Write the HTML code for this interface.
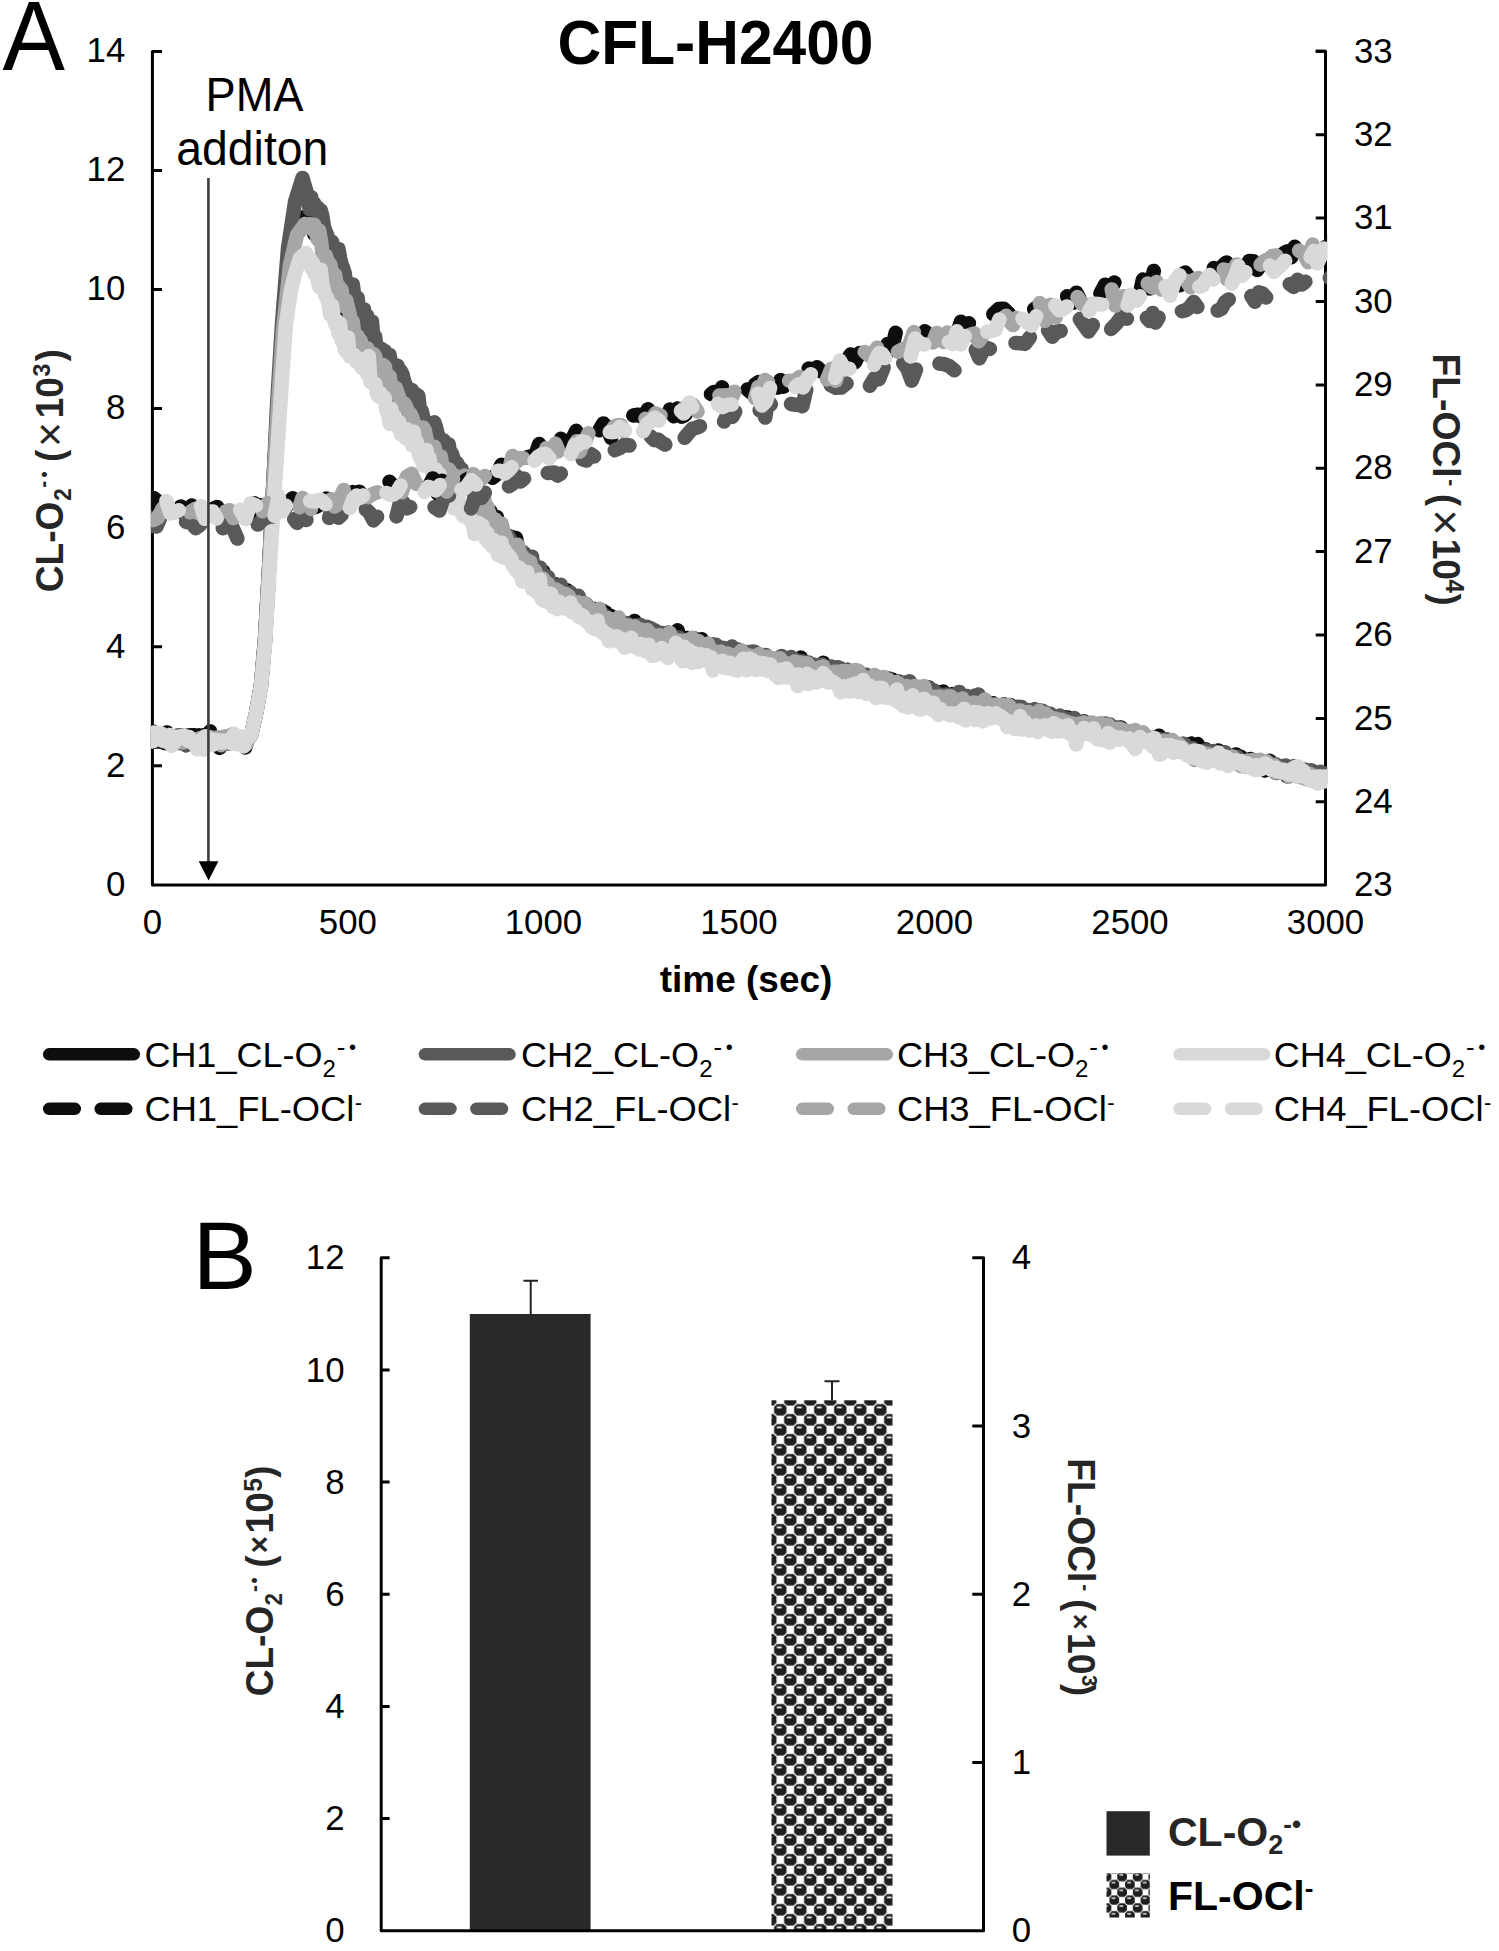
<!DOCTYPE html>
<html><head><meta charset="utf-8"><style>
html,body{margin:0;padding:0;background:#fff;}
svg{display:block;}
text{font-family:"Liberation Sans", sans-serif;}
</style></head><body>
<svg width="1499" height="1951" viewBox="0 0 1499 1951">
<rect width="1499" height="1951" fill="#fff"/>
<text x="0" y="0" font-size="97.5" transform="translate(2.6,69.8) scale(0.96,1)">A</text>
<text x="715.5" y="63.6" font-size="63.0" font-weight="bold" text-anchor="middle" fill="#000" textLength="316" lengthAdjust="spacingAndGlyphs">CFL-H2400</text>
<path d="M162,51.4 H152.4 V884.9 H1325.5 V51.3 H1315.7" fill="none" stroke="#000" stroke-width="3" stroke-linejoin="round"/>
<text x="125.3" y="895.7" font-size="34.8" font-weight="normal" text-anchor="end" fill="#000" >0</text>
<text x="125.3" y="776.6" font-size="34.8" font-weight="normal" text-anchor="end" fill="#000" >2</text>
<text x="125.3" y="657.6" font-size="34.8" font-weight="normal" text-anchor="end" fill="#000" >4</text>
<text x="125.3" y="538.5" font-size="34.8" font-weight="normal" text-anchor="end" fill="#000" >6</text>
<text x="125.3" y="419.4" font-size="34.8" font-weight="normal" text-anchor="end" fill="#000" >8</text>
<text x="125.3" y="300.3" font-size="34.8" font-weight="normal" text-anchor="end" fill="#000" >10</text>
<text x="125.3" y="181.3" font-size="34.8" font-weight="normal" text-anchor="end" fill="#000" >12</text>
<text x="125.3" y="62.2" font-size="34.8" font-weight="normal" text-anchor="end" fill="#000" >14</text>
<text x="1354.0" y="896.4" font-size="34.8" font-weight="normal" text-anchor="start" fill="#000" >23</text>
<text x="1354.0" y="813.0" font-size="34.8" font-weight="normal" text-anchor="start" fill="#000" >24</text>
<text x="1354.0" y="729.6" font-size="34.8" font-weight="normal" text-anchor="start" fill="#000" >25</text>
<text x="1354.0" y="646.2" font-size="34.8" font-weight="normal" text-anchor="start" fill="#000" >26</text>
<text x="1354.0" y="562.8" font-size="34.8" font-weight="normal" text-anchor="start" fill="#000" >27</text>
<text x="1354.0" y="479.4" font-size="34.8" font-weight="normal" text-anchor="start" fill="#000" >28</text>
<text x="1354.0" y="396.1" font-size="34.8" font-weight="normal" text-anchor="start" fill="#000" >29</text>
<text x="1354.0" y="312.7" font-size="34.8" font-weight="normal" text-anchor="start" fill="#000" >30</text>
<text x="1354.0" y="229.3" font-size="34.8" font-weight="normal" text-anchor="start" fill="#000" >31</text>
<text x="1354.0" y="145.9" font-size="34.8" font-weight="normal" text-anchor="start" fill="#000" >32</text>
<text x="1354.0" y="62.5" font-size="34.8" font-weight="normal" text-anchor="start" fill="#000" >33</text>
<path d="M152.4,765.8 H162 M152.4,646.8 H162 M152.4,527.7 H162 M152.4,408.6 H162 M152.4,289.5 H162 M152.4,170.5 H162 M152.4,51.4 H162 M1325.5,801.8 H1315.7 M1325.5,718.4 H1315.7 M1325.5,635.0 H1315.7 M1325.5,551.6 H1315.7 M1325.5,468.2 H1315.7 M1325.5,384.9 H1315.7 M1325.5,301.5 H1315.7 M1325.5,218.1 H1315.7 M1325.5,134.7 H1315.7 M1325.5,51.3 H1315.7" stroke="#000" stroke-width="3" fill="none"/>
<text x="152.4" y="934.3" font-size="34.8" font-weight="normal" text-anchor="middle" fill="#000" >0</text>
<text x="347.9" y="934.3" font-size="34.8" font-weight="normal" text-anchor="middle" fill="#000" >500</text>
<text x="543.4" y="934.3" font-size="34.8" font-weight="normal" text-anchor="middle" fill="#000" >1000</text>
<text x="738.9" y="934.3" font-size="34.8" font-weight="normal" text-anchor="middle" fill="#000" >1500</text>
<text x="934.5" y="934.3" font-size="34.8" font-weight="normal" text-anchor="middle" fill="#000" >2000</text>
<text x="1130.0" y="934.3" font-size="34.8" font-weight="normal" text-anchor="middle" fill="#000" >2500</text>
<text x="1325.5" y="934.3" font-size="34.8" font-weight="normal" text-anchor="middle" fill="#000" >3000</text>
<text x="746.0" y="991.5" font-size="37.0" font-weight="bold" text-anchor="middle" fill="#000" >time (sec)</text>
<clipPath id="pa"><rect x="150.9" y="0" width="1176.2" height="886.4"/></clipPath><g clip-path="url(#pa)"><path d="M152.4,731.4 L154.0,741.8 L155.6,740.9 L157.2,741.6 L158.8,741.6 L160.4,736.5 L162.0,736.4 L163.6,739.9 L165.2,743.3 L166.8,732.5 L168.4,737.4 L170.0,736.4 L171.6,741.2 L173.2,744.5 L174.8,739.0 L176.4,736.0 L178.0,741.4 L179.6,740.0 L181.2,735.6 L182.8,742.1 L184.4,738.0 L186.0,741.7 L187.6,735.5 L189.2,742.7 L190.8,735.2 L192.4,743.2 L194.0,735.2 L195.6,744.8 L197.2,738.4 L198.8,735.3 L200.4,738.4 L202.0,740.1 L203.6,735.3 L205.2,736.9 L206.8,738.9 L208.4,737.9 L210.0,731.4 L211.6,739.2 L213.2,742.2 L214.8,741.0 L216.4,742.9 L218.0,738.3 L219.6,747.9 L221.2,742.9 L222.8,741.5 L224.4,743.2 L226.0,743.2 L227.6,740.1 L229.2,739.2 L230.8,743.7 L232.4,742.3 L234.0,735.3 L235.6,738.2 L237.2,742.5 L238.8,742.0 L240.4,742.3 L242.0,744.1 L243.6,742.9 L245.2,747.5 L246.8,738.2 L248.4,737.7 L250.0,736.3 L251.0,735.5 L256.0,713.5 L261.0,685.0 L265.0,640.0 L269.0,570.0 L273.0,490.0 L277.0,419.4 L282.0,341.0 L288.0,276.5 L295.0,235.3 L302.5,217.6 L306.0,217.5 L308.0,220.3 L309.6,225.1 L311.2,228.5 L312.8,230.3 L314.4,234.3 L316.0,228.1 L317.6,238.6 L319.2,239.8 L320.8,232.5 L322.4,246.9 L324.0,268.3 L325.6,264.5 L327.2,260.5 L328.8,247.2 L330.4,265.7 L332.0,271.0 L333.6,279.3 L335.2,298.8 L336.8,290.3 L338.4,288.5 L340.0,282.2 L341.6,283.8 L343.2,295.0 L344.8,296.9 L346.4,324.1 L348.0,304.8 L349.6,304.8 L351.2,321.1 L352.8,318.4 L354.4,311.2 L356.0,330.7 L357.6,320.9 L359.2,317.4 L360.8,334.0 L362.4,339.1 L364.0,335.1 L365.6,343.7 L367.2,347.7 L368.8,339.9 L370.4,332.7 L372.0,334.5 L373.6,353.3 L375.2,364.6 L376.8,364.5 L378.4,368.7 L380.0,374.1 L381.6,368.8 L383.2,377.5 L384.8,365.1 L386.4,381.6 L388.0,381.8 L389.6,383.2 L391.2,382.4 L392.8,380.1 L394.4,390.2 L396.0,400.4 L397.6,393.7 L399.2,400.7 L400.8,394.0 L402.4,399.9 L404.0,394.9 L405.6,403.5 L407.2,403.2 L408.8,407.7 L410.4,405.9 L412.0,404.4 L413.6,411.9 L415.2,424.2 L416.8,431.5 L418.4,423.0 L420.0,432.1 L421.6,433.4 L423.2,432.2 L424.8,425.8 L426.4,439.9 L428.0,434.9 L429.6,448.2 L431.2,447.0 L432.8,448.7 L434.4,434.8 L436.0,455.3 L437.6,457.5 L439.2,449.0 L440.8,459.3 L442.4,458.4 L444.0,459.3 L445.6,457.2 L447.2,458.0 L448.8,461.3 L450.4,483.6 L452.0,472.6 L453.6,474.4 L455.2,471.9 L456.8,471.5 L458.4,473.0 L460.0,471.8 L461.6,480.7 L463.2,475.9 L464.8,481.3 L466.4,475.7 L468.0,487.7 L469.6,484.4 L471.2,489.4 L472.8,488.9 L474.4,488.2 L476.0,502.0 L477.6,494.4 L479.2,498.2 L480.8,495.5 L482.4,504.3 L484.0,505.3 L485.6,511.7 L487.2,516.2 L488.8,513.0 L490.4,511.3 L492.0,521.4 L493.6,525.7 L495.2,525.5 L496.8,517.0 L498.4,528.6 L500.0,531.2 L501.6,533.6 L503.2,537.7 L504.8,536.2 L506.4,540.0 L508.0,545.4 L509.6,540.1 L511.2,536.7 L512.8,543.2 L514.4,545.4 L516.0,538.1 L517.6,545.9 L519.2,553.5 L520.8,553.5 L522.4,556.8 L524.0,553.1 L525.6,566.1 L527.2,571.1 L528.8,562.1 L530.4,562.4 L532.0,561.8 L533.6,574.2 L535.2,572.6 L536.8,571.2 L538.4,581.0 L540.0,578.8 L541.6,580.2 L543.2,571.6 L544.8,579.0 L546.4,583.0 L548.0,577.8 L549.6,588.4 L551.2,592.6 L552.8,591.0 L554.4,584.9 L556.0,584.6 L557.6,592.7 L559.2,594.9 L560.8,596.4 L562.4,597.5 L564.0,594.2 L565.6,594.9 L567.2,590.3 L568.8,600.0 L570.4,605.7 L572.0,598.5 L573.6,600.2 L575.2,605.0 L576.8,605.1 L578.4,600.0 L580.0,603.3 L581.6,602.7 L583.2,614.3 L584.8,604.8 L586.4,610.8 L588.0,616.4 L589.6,617.3 L591.2,616.5 L592.8,617.7 L594.4,609.0 L596.0,612.9 L597.6,611.9 L599.2,614.2 L600.8,624.7 L602.4,610.7 L604.0,618.3 L605.6,612.6 L607.2,621.2 L608.8,622.6 L610.4,615.9 L612.0,625.2 L613.6,619.3 L615.2,623.6 L616.8,621.3 L618.4,620.1 L620.0,621.4 L621.6,622.8 L623.2,625.4 L624.8,624.4 L626.4,632.8 L628.0,625.0 L629.6,624.1 L631.2,623.2 L632.8,623.1 L634.4,620.9 L636.0,623.9 L637.6,630.9 L639.2,628.8 L640.8,629.7 L642.4,631.4 L644.0,634.7 L645.6,634.3 L647.2,634.3 L648.8,629.7 L650.4,630.7 L652.0,630.4 L653.6,633.9 L655.2,631.4 L656.8,634.0 L658.4,634.9 L660.0,635.1 L661.6,635.1 L663.2,634.8 L664.8,639.9 L666.4,634.8 L668.0,632.7 L669.6,637.3 L671.2,635.3 L672.8,637.4 L674.4,641.0 L676.0,634.9 L677.6,630.3 L679.2,640.9 L680.8,644.9 L682.4,637.3 L684.0,639.6 L685.6,645.2 L687.2,637.9 L688.8,640.7 L690.4,639.8 L692.0,643.2 L693.6,638.2 L695.2,647.7 L696.8,644.7 L698.4,646.7 L700.0,644.8 L701.6,639.2 L703.2,646.7 L704.8,643.6 L706.4,648.4 L708.0,645.0 L709.6,647.0 L711.2,648.2 L712.8,650.8 L714.4,651.9 L716.0,646.6 L717.6,650.3 L719.2,655.1 L720.8,652.6 L722.4,649.9 L724.0,651.8 L725.6,652.4 L727.2,656.1 L728.8,653.0 L730.4,654.8 L732.0,660.1 L733.6,649.2 L735.2,651.3 L736.8,650.2 L738.4,649.8 L740.0,658.0 L741.6,657.7 L743.2,662.8 L744.8,651.8 L746.4,655.0 L748.0,662.1 L749.6,660.3 L751.2,660.0 L752.8,660.1 L754.4,657.8 L756.0,658.7 L757.6,658.9 L759.2,660.7 L760.8,658.6 L762.4,659.6 L764.0,663.0 L765.6,655.4 L767.2,656.6 L768.8,660.2 L770.4,657.9 L772.0,659.9 L773.6,666.5 L775.2,661.6 L776.8,660.0 L778.4,665.1 L780.0,670.0 L781.6,659.7 L783.2,659.8 L784.8,661.8 L786.4,659.9 L788.0,668.9 L789.6,664.8 L791.2,662.4 L792.8,665.1 L794.4,661.3 L796.0,661.9 L797.6,664.3 L799.2,671.7 L800.8,657.6 L802.4,665.6 L804.0,668.3 L805.6,667.5 L807.2,672.3 L808.8,668.7 L810.4,668.5 L812.0,668.3 L813.6,666.3 L815.2,674.5 L816.8,665.3 L818.4,668.7 L820.0,667.3 L821.6,667.3 L823.2,662.8 L824.8,668.7 L826.4,670.9 L828.0,672.1 L829.6,674.0 L831.2,670.7 L832.8,670.1 L834.4,672.6 L836.0,674.4 L837.6,669.6 L839.2,668.0 L840.8,668.9 L842.4,676.2 L844.0,676.2 L845.6,670.3 L847.2,675.2 L848.8,678.3 L850.4,682.3 L852.0,676.6 L853.6,677.8 L855.2,683.1 L856.8,687.4 L858.4,684.8 L860.0,676.9 L861.6,682.3 L863.2,679.6 L864.8,680.6 L866.4,678.6 L868.0,678.7 L869.6,681.1 L871.2,687.4 L872.8,684.3 L874.4,683.2 L876.0,681.0 L877.6,679.4 L879.2,681.4 L880.8,685.3 L882.4,684.5 L884.0,687.6 L885.6,683.0 L887.2,682.8 L888.8,678.6 L890.4,685.5 L892.0,679.5 L893.6,689.3 L895.2,683.0 L896.8,685.1 L898.4,681.4 L900.0,684.7 L901.6,684.3 L903.2,692.1 L904.8,688.1 L906.4,684.5 L908.0,682.5 L909.6,690.1 L911.2,689.7 L912.8,687.0 L914.4,692.9 L916.0,690.5 L917.6,692.5 L919.2,690.0 L920.8,690.4 L922.4,691.0 L924.0,687.8 L925.6,694.7 L927.2,693.4 L928.8,687.6 L930.4,694.4 L932.0,698.0 L933.6,695.0 L935.2,698.8 L936.8,694.8 L938.4,695.9 L940.0,692.3 L941.6,694.8 L943.2,691.6 L944.8,694.6 L946.4,697.3 L948.0,698.3 L949.6,700.4 L951.2,697.2 L952.8,693.9 L954.4,700.0 L956.0,698.5 L957.6,704.8 L959.2,707.2 L960.8,704.4 L962.4,697.2 L964.0,699.8 L965.6,701.8 L967.2,700.5 L968.8,703.8 L970.4,704.4 L972.0,704.3 L973.6,703.0 L975.2,699.5 L976.8,700.1 L978.4,702.6 L980.0,707.2 L981.6,709.1 L983.2,708.3 L984.8,706.8 L986.4,707.6 L988.0,707.8 L989.6,709.9 L991.2,710.5 L992.8,703.2 L994.4,710.7 L996.0,708.9 L997.6,706.1 L999.2,709.0 L1000.8,708.6 L1002.4,708.9 L1004.0,704.3 L1005.6,709.8 L1007.2,710.6 L1008.8,709.4 L1010.4,705.1 L1012.0,711.0 L1013.6,711.6 L1015.2,710.5 L1016.8,712.4 L1018.4,710.8 L1020.0,710.4 L1021.6,714.2 L1023.2,712.1 L1024.8,714.0 L1026.4,725.1 L1028.0,716.8 L1029.6,715.1 L1031.2,710.9 L1032.8,716.2 L1034.4,719.3 L1036.0,715.0 L1037.6,716.7 L1039.2,710.5 L1040.8,718.4 L1042.4,714.6 L1044.0,720.3 L1045.6,723.0 L1047.2,718.9 L1048.8,723.1 L1050.4,721.4 L1052.0,720.7 L1053.6,720.4 L1055.2,718.6 L1056.8,725.9 L1058.4,724.6 L1060.0,718.1 L1061.6,723.9 L1063.2,719.0 L1064.8,717.3 L1066.4,725.4 L1068.0,717.5 L1069.6,725.2 L1071.2,723.6 L1072.8,726.0 L1074.4,725.2 L1076.0,727.5 L1077.6,725.5 L1079.2,727.0 L1080.8,727.1 L1082.4,728.8 L1084.0,725.4 L1085.6,729.8 L1087.2,731.3 L1088.8,728.2 L1090.4,729.8 L1092.0,728.2 L1093.6,729.5 L1095.2,730.5 L1096.8,729.1 L1098.4,727.9 L1100.0,730.5 L1101.6,729.9 L1103.2,730.4 L1104.8,731.8 L1106.4,723.8 L1108.0,735.2 L1109.6,730.4 L1111.2,728.7 L1112.8,730.1 L1114.4,732.4 L1116.0,733.7 L1117.6,730.4 L1119.2,732.7 L1120.8,727.4 L1122.4,733.2 L1124.0,731.9 L1125.6,731.7 L1127.2,735.8 L1128.8,739.2 L1130.4,736.8 L1132.0,731.4 L1133.6,739.2 L1135.2,733.2 L1136.8,736.2 L1138.4,734.9 L1140.0,738.4 L1141.6,738.7 L1143.2,738.8 L1144.8,738.9 L1146.4,739.6 L1148.0,738.2 L1149.6,742.4 L1151.2,738.6 L1152.8,739.8 L1154.4,739.2 L1156.0,737.3 L1157.6,739.0 L1159.2,735.7 L1160.8,741.6 L1162.4,742.6 L1164.0,742.3 L1165.6,749.5 L1167.2,741.8 L1168.8,746.5 L1170.4,746.7 L1172.0,743.8 L1173.6,745.7 L1175.2,749.2 L1176.8,746.8 L1178.4,747.5 L1180.0,751.3 L1181.6,748.8 L1183.2,743.8 L1184.8,746.1 L1186.4,751.0 L1188.0,747.9 L1189.6,745.9 L1191.2,743.6 L1192.8,751.6 L1194.4,755.5 L1196.0,746.2 L1197.6,744.1 L1199.2,752.8 L1200.8,750.3 L1202.4,750.6 L1204.0,751.0 L1205.6,749.2 L1207.2,753.3 L1208.8,755.4 L1210.4,754.4 L1212.0,751.4 L1213.6,755.7 L1215.2,751.2 L1216.8,753.6 L1218.4,750.4 L1220.0,755.8 L1221.6,755.2 L1223.2,757.0 L1224.8,754.1 L1226.4,757.1 L1228.0,755.2 L1229.6,760.3 L1231.2,760.4 L1232.8,761.1 L1234.4,756.8 L1236.0,754.5 L1237.6,758.0 L1239.2,758.1 L1240.8,756.7 L1242.4,761.5 L1244.0,763.8 L1245.6,763.0 L1247.2,765.7 L1248.8,763.7 L1250.4,758.9 L1252.0,760.4 L1253.6,761.8 L1255.2,764.8 L1256.8,766.7 L1258.4,764.4 L1260.0,767.7 L1261.6,762.2 L1263.2,764.0 L1264.8,770.5 L1266.4,766.9 L1268.0,769.7 L1269.6,760.8 L1271.2,762.0 L1272.8,764.2 L1274.4,770.0 L1276.0,772.9 L1277.6,767.6 L1279.2,766.2 L1280.8,766.4 L1282.4,767.7 L1284.0,771.9 L1285.6,770.0 L1287.2,776.4 L1288.8,773.6 L1290.4,769.9 L1292.0,773.6 L1293.6,772.9 L1295.2,775.2 L1296.8,776.2 L1298.4,772.0 L1300.0,776.5 L1301.6,776.8 L1303.2,775.4 L1304.8,776.3 L1306.4,778.5 L1308.0,775.8 L1309.6,774.1 L1311.2,780.1 L1312.8,777.4 L1314.4,775.7 L1316.0,779.2 L1317.6,773.4 L1319.2,777.3 L1320.8,773.1 L1322.4,776.6 L1324.0,773.0 L1325.5,776.5" fill="none" stroke="#0d0d0d" stroke-width="14.5" stroke-linejoin="round" stroke-linecap="round"/>
<path d="M152.4,738.3 L154.0,740.0 L155.6,740.1 L157.2,737.9 L158.8,738.3 L160.4,736.5 L162.0,738.8 L163.6,738.8 L165.2,741.0 L166.8,740.2 L168.4,739.1 L170.0,737.4 L171.6,738.8 L173.2,742.0 L174.8,743.2 L176.4,739.3 L178.0,735.3 L179.6,743.0 L181.2,738.9 L182.8,742.5 L184.4,742.8 L186.0,745.4 L187.6,741.5 L189.2,741.3 L190.8,741.4 L192.4,743.5 L194.0,739.6 L195.6,743.2 L197.2,744.0 L198.8,745.7 L200.4,742.3 L202.0,743.8 L203.6,743.5 L205.2,743.1 L206.8,740.5 L208.4,740.9 L210.0,741.9 L211.6,742.6 L213.2,744.1 L214.8,741.4 L216.4,742.5 L218.0,743.5 L219.6,743.3 L221.2,741.4 L222.8,741.2 L224.4,740.0 L226.0,740.6 L227.6,738.5 L229.2,736.2 L230.8,738.4 L232.4,734.4 L234.0,741.3 L235.6,741.8 L237.2,738.4 L238.8,740.0 L240.4,740.4 L242.0,739.1 L243.6,743.6 L245.2,740.0 L246.8,739.2 L248.4,737.7 L250.0,736.3 L251.0,735.5 L256.0,713.5 L261.0,685.0 L265.0,640.0 L269.0,570.0 L273.0,490.0 L277.0,406.0 L282.0,324.0 L288.0,248.0 L295.0,202.0 L302.5,178.0 L306.0,190.0 L308.0,196.8 L309.6,209.3 L311.2,197.2 L312.8,207.7 L314.4,203.5 L316.0,209.2 L317.6,207.3 L319.2,219.5 L320.8,210.4 L322.4,216.4 L324.0,227.0 L325.6,231.5 L327.2,235.0 L328.8,250.0 L330.4,242.4 L332.0,241.7 L333.6,254.9 L335.2,252.1 L336.8,259.4 L338.4,249.0 L340.0,257.6 L341.6,264.4 L343.2,268.4 L344.8,273.7 L346.4,285.4 L348.0,284.2 L349.6,289.3 L351.2,290.5 L352.8,284.6 L354.4,296.4 L356.0,307.9 L357.6,297.9 L359.2,310.8 L360.8,317.4 L362.4,318.9 L364.0,309.4 L365.6,325.8 L367.2,316.0 L368.8,323.8 L370.4,334.3 L372.0,321.6 L373.6,342.6 L375.2,336.7 L376.8,353.6 L378.4,352.8 L380.0,349.8 L381.6,348.8 L383.2,352.8 L384.8,351.0 L386.4,353.4 L388.0,361.0 L389.6,355.1 L391.2,365.1 L392.8,367.1 L394.4,368.0 L396.0,367.1 L397.6,365.7 L399.2,376.5 L400.8,370.8 L402.4,374.1 L404.0,380.6 L405.6,384.9 L407.2,392.4 L408.8,393.6 L410.4,389.6 L412.0,390.1 L413.6,395.4 L415.2,393.6 L416.8,397.8 L418.4,395.7 L420.0,413.0 L421.6,410.4 L423.2,417.2 L424.8,425.3 L426.4,424.0 L428.0,425.8 L429.6,428.3 L431.2,424.1 L432.8,424.1 L434.4,422.3 L436.0,427.3 L437.6,433.6 L439.2,438.2 L440.8,441.5 L442.4,442.1 L444.0,440.6 L445.6,446.9 L447.2,450.6 L448.8,444.6 L450.4,457.5 L452.0,453.6 L453.6,459.3 L455.2,462.6 L456.8,462.7 L458.4,465.5 L460.0,470.5 L461.6,469.1 L463.2,476.9 L464.8,478.1 L466.4,481.0 L468.0,476.9 L469.6,481.5 L471.2,485.0 L472.8,489.5 L474.4,497.0 L476.0,494.0 L477.6,498.7 L479.2,505.7 L480.8,502.6 L482.4,509.1 L484.0,508.4 L485.6,506.4 L487.2,513.3 L488.8,515.9 L490.4,515.4 L492.0,526.2 L493.6,520.4 L495.2,519.5 L496.8,526.3 L498.4,530.1 L500.0,532.8 L501.6,541.7 L503.2,535.7 L504.8,540.8 L506.4,535.7 L508.0,535.7 L509.6,538.5 L511.2,543.1 L512.8,545.1 L514.4,546.9 L516.0,546.7 L517.6,547.8 L519.2,550.9 L520.8,556.9 L522.4,551.6 L524.0,558.8 L525.6,564.8 L527.2,557.9 L528.8,565.5 L530.4,566.5 L532.0,556.7 L533.6,569.5 L535.2,569.7 L536.8,567.2 L538.4,575.9 L540.0,567.7 L541.6,578.2 L543.2,577.6 L544.8,575.3 L546.4,580.1 L548.0,577.0 L549.6,583.8 L551.2,586.0 L552.8,588.8 L554.4,589.4 L556.0,585.8 L557.6,591.1 L559.2,588.9 L560.8,584.8 L562.4,596.4 L564.0,598.3 L565.6,595.8 L567.2,600.7 L568.8,596.3 L570.4,592.5 L572.0,596.4 L573.6,597.3 L575.2,600.1 L576.8,598.9 L578.4,595.7 L580.0,599.4 L581.6,602.8 L583.2,607.2 L584.8,604.1 L586.4,604.3 L588.0,607.0 L589.6,612.2 L591.2,614.0 L592.8,610.0 L594.4,613.6 L596.0,615.1 L597.6,615.3 L599.2,611.2 L600.8,616.3 L602.4,615.0 L604.0,614.6 L605.6,621.5 L607.2,618.6 L608.8,621.0 L610.4,623.3 L612.0,625.2 L613.6,622.3 L615.2,621.1 L616.8,623.6 L618.4,622.3 L620.0,624.3 L621.6,624.8 L623.2,622.4 L624.8,624.9 L626.4,623.0 L628.0,627.3 L629.6,630.2 L631.2,629.7 L632.8,628.6 L634.4,625.4 L636.0,627.9 L637.6,625.6 L639.2,629.9 L640.8,625.1 L642.4,627.2 L644.0,632.8 L645.6,630.0 L647.2,626.8 L648.8,629.6 L650.4,628.2 L652.0,628.9 L653.6,631.1 L655.2,630.3 L656.8,633.9 L658.4,635.7 L660.0,632.8 L661.6,632.9 L663.2,633.1 L664.8,634.4 L666.4,635.8 L668.0,633.9 L669.6,634.1 L671.2,634.8 L672.8,639.3 L674.4,639.9 L676.0,640.7 L677.6,639.2 L679.2,637.5 L680.8,643.2 L682.4,646.2 L684.0,640.7 L685.6,639.9 L687.2,643.1 L688.8,643.7 L690.4,643.2 L692.0,647.6 L693.6,642.8 L695.2,642.0 L696.8,644.8 L698.4,646.0 L700.0,646.3 L701.6,649.0 L703.2,647.5 L704.8,644.0 L706.4,647.5 L708.0,645.9 L709.6,650.4 L711.2,648.7 L712.8,644.3 L714.4,648.5 L716.0,644.7 L717.6,649.6 L719.2,648.9 L720.8,649.7 L722.4,647.7 L724.0,648.1 L725.6,648.6 L727.2,650.2 L728.8,652.6 L730.4,648.6 L732.0,646.5 L733.6,650.7 L735.2,653.2 L736.8,653.5 L738.4,649.7 L740.0,655.7 L741.6,653.3 L743.2,654.8 L744.8,654.0 L746.4,656.4 L748.0,651.9 L749.6,658.5 L751.2,656.9 L752.8,651.6 L754.4,651.8 L756.0,658.5 L757.6,653.6 L759.2,656.5 L760.8,659.2 L762.4,657.9 L764.0,659.3 L765.6,655.1 L767.2,658.8 L768.8,661.3 L770.4,664.5 L772.0,660.1 L773.6,659.1 L775.2,659.0 L776.8,660.9 L778.4,660.1 L780.0,657.5 L781.6,655.9 L783.2,659.9 L784.8,659.0 L786.4,664.1 L788.0,658.7 L789.6,663.0 L791.2,657.1 L792.8,663.9 L794.4,659.0 L796.0,662.5 L797.6,662.6 L799.2,663.1 L800.8,662.6 L802.4,661.2 L804.0,664.8 L805.6,662.2 L807.2,664.2 L808.8,662.5 L810.4,664.6 L812.0,664.5 L813.6,664.7 L815.2,664.9 L816.8,670.6 L818.4,667.6 L820.0,668.7 L821.6,664.4 L823.2,670.6 L824.8,667.0 L826.4,670.3 L828.0,666.7 L829.6,675.2 L831.2,666.4 L832.8,669.5 L834.4,667.2 L836.0,668.2 L837.6,667.3 L839.2,675.5 L840.8,677.1 L842.4,671.7 L844.0,674.4 L845.6,671.6 L847.2,669.6 L848.8,676.8 L850.4,675.3 L852.0,671.5 L853.6,673.6 L855.2,673.8 L856.8,673.0 L858.4,673.9 L860.0,672.6 L861.6,674.5 L863.2,674.4 L864.8,676.0 L866.4,674.8 L868.0,679.3 L869.6,676.5 L871.2,677.8 L872.8,679.1 L874.4,679.3 L876.0,676.2 L877.6,681.4 L879.2,677.6 L880.8,679.2 L882.4,682.1 L884.0,681.5 L885.6,680.8 L887.2,682.7 L888.8,681.5 L890.4,683.2 L892.0,683.0 L893.6,682.6 L895.2,683.9 L896.8,685.3 L898.4,683.6 L900.0,685.1 L901.6,688.3 L903.2,686.4 L904.8,682.5 L906.4,688.0 L908.0,691.8 L909.6,681.3 L911.2,688.0 L912.8,687.3 L914.4,686.1 L916.0,690.6 L917.6,688.8 L919.2,689.2 L920.8,687.6 L922.4,690.0 L924.0,688.8 L925.6,694.9 L927.2,691.5 L928.8,688.1 L930.4,691.2 L932.0,695.4 L933.6,690.2 L935.2,692.6 L936.8,693.6 L938.4,694.9 L940.0,695.8 L941.6,694.9 L943.2,696.4 L944.8,698.3 L946.4,694.6 L948.0,697.2 L949.6,697.9 L951.2,696.2 L952.8,694.7 L954.4,701.4 L956.0,698.0 L957.6,697.5 L959.2,691.9 L960.8,701.6 L962.4,700.8 L964.0,697.7 L965.6,697.2 L967.2,696.0 L968.8,703.7 L970.4,702.0 L972.0,704.6 L973.6,704.1 L975.2,695.5 L976.8,701.1 L978.4,694.5 L980.0,700.4 L981.6,699.9 L983.2,699.2 L984.8,702.9 L986.4,702.6 L988.0,702.2 L989.6,703.3 L991.2,706.4 L992.8,705.6 L994.4,706.7 L996.0,706.8 L997.6,705.3 L999.2,706.2 L1000.8,709.2 L1002.4,708.3 L1004.0,707.3 L1005.6,710.9 L1007.2,710.5 L1008.8,709.4 L1010.4,710.2 L1012.0,708.3 L1013.6,712.0 L1015.2,709.1 L1016.8,708.9 L1018.4,706.7 L1020.0,707.7 L1021.6,706.9 L1023.2,710.6 L1024.8,711.5 L1026.4,712.2 L1028.0,710.1 L1029.6,711.1 L1031.2,712.9 L1032.8,712.1 L1034.4,709.1 L1036.0,717.9 L1037.6,714.3 L1039.2,715.4 L1040.8,713.8 L1042.4,710.7 L1044.0,713.3 L1045.6,712.5 L1047.2,716.9 L1048.8,715.0 L1050.4,713.7 L1052.0,716.5 L1053.6,721.8 L1055.2,717.4 L1056.8,718.4 L1058.4,721.6 L1060.0,715.4 L1061.6,718.9 L1063.2,721.6 L1064.8,720.6 L1066.4,718.5 L1068.0,720.7 L1069.6,721.7 L1071.2,723.0 L1072.8,724.5 L1074.4,718.1 L1076.0,721.6 L1077.6,720.7 L1079.2,723.2 L1080.8,722.2 L1082.4,725.4 L1084.0,721.1 L1085.6,724.8 L1087.2,725.3 L1088.8,727.2 L1090.4,728.7 L1092.0,725.7 L1093.6,724.8 L1095.2,728.1 L1096.8,726.5 L1098.4,727.4 L1100.0,728.0 L1101.6,723.5 L1103.2,724.5 L1104.8,725.1 L1106.4,724.1 L1108.0,731.8 L1109.6,724.4 L1111.2,728.2 L1112.8,728.1 L1114.4,727.1 L1116.0,731.0 L1117.6,728.3 L1119.2,727.5 L1120.8,728.5 L1122.4,735.3 L1124.0,732.1 L1125.6,734.5 L1127.2,734.7 L1128.8,736.3 L1130.4,733.5 L1132.0,736.5 L1133.6,736.8 L1135.2,731.8 L1136.8,737.7 L1138.4,738.8 L1140.0,741.0 L1141.6,739.5 L1143.2,737.7 L1144.8,736.3 L1146.4,739.3 L1148.0,738.9 L1149.6,738.9 L1151.2,738.0 L1152.8,742.3 L1154.4,742.4 L1156.0,742.9 L1157.6,738.7 L1159.2,742.1 L1160.8,743.0 L1162.4,739.4 L1164.0,741.8 L1165.6,743.4 L1167.2,739.3 L1168.8,742.3 L1170.4,743.0 L1172.0,740.6 L1173.6,745.5 L1175.2,744.8 L1176.8,747.7 L1178.4,745.0 L1180.0,745.1 L1181.6,746.4 L1183.2,749.0 L1184.8,744.1 L1186.4,748.0 L1188.0,750.8 L1189.6,751.4 L1191.2,751.9 L1192.8,748.3 L1194.4,750.4 L1196.0,751.2 L1197.6,751.6 L1199.2,752.4 L1200.8,756.7 L1202.4,757.2 L1204.0,750.9 L1205.6,750.4 L1207.2,753.0 L1208.8,756.3 L1210.4,751.3 L1212.0,751.6 L1213.6,751.1 L1215.2,756.4 L1216.8,752.9 L1218.4,754.6 L1220.0,757.3 L1221.6,756.1 L1223.2,754.7 L1224.8,752.2 L1226.4,758.3 L1228.0,756.5 L1229.6,755.6 L1231.2,758.3 L1232.8,756.5 L1234.4,758.7 L1236.0,758.2 L1237.6,757.0 L1239.2,760.3 L1240.8,761.6 L1242.4,763.5 L1244.0,763.8 L1245.6,766.5 L1247.2,764.9 L1248.8,763.6 L1250.4,765.1 L1252.0,764.8 L1253.6,763.3 L1255.2,764.8 L1256.8,764.4 L1258.4,760.3 L1260.0,763.5 L1261.6,764.0 L1263.2,767.7 L1264.8,765.9 L1266.4,764.4 L1268.0,764.3 L1269.6,762.7 L1271.2,767.4 L1272.8,764.0 L1274.4,764.0 L1276.0,764.5 L1277.6,770.5 L1279.2,770.5 L1280.8,768.9 L1282.4,767.4 L1284.0,766.0 L1285.6,765.5 L1287.2,768.3 L1288.8,767.4 L1290.4,773.3 L1292.0,769.3 L1293.6,766.3 L1295.2,772.6 L1296.8,771.3 L1298.4,769.2 L1300.0,771.6 L1301.6,772.4 L1303.2,769.6 L1304.8,769.5 L1306.4,772.3 L1308.0,772.6 L1309.6,772.8 L1311.2,770.2 L1312.8,771.0 L1314.4,773.4 L1316.0,773.0 L1317.6,773.8 L1319.2,778.7 L1320.8,771.7 L1322.4,775.1 L1324.0,773.5 L1325.5,777.0" fill="none" stroke="#595959" stroke-width="14.5" stroke-linejoin="round" stroke-linecap="round"/>
<path d="M152.4,738.3 L154.0,740.8 L155.6,738.5 L157.2,738.7 L158.8,739.1 L160.4,739.9 L162.0,735.9 L163.6,735.1 L165.2,739.1 L166.8,740.7 L168.4,738.0 L170.0,738.2 L171.6,740.8 L173.2,740.6 L174.8,737.5 L176.4,739.3 L178.0,739.0 L179.6,739.6 L181.2,740.0 L182.8,742.4 L184.4,741.3 L186.0,740.9 L187.6,740.6 L189.2,739.1 L190.8,739.4 L192.4,740.8 L194.0,741.1 L195.6,744.7 L197.2,745.5 L198.8,738.7 L200.4,738.1 L202.0,741.7 L203.6,738.1 L205.2,739.9 L206.8,736.7 L208.4,741.2 L210.0,737.1 L211.6,741.5 L213.2,738.5 L214.8,740.8 L216.4,741.5 L218.0,737.2 L219.6,739.6 L221.2,745.2 L222.8,737.1 L224.4,740.6 L226.0,736.2 L227.6,742.0 L229.2,740.8 L230.8,739.3 L232.4,738.6 L234.0,743.5 L235.6,742.7 L237.2,739.1 L238.8,743.4 L240.4,740.0 L242.0,740.3 L243.6,743.4 L245.2,742.9 L246.8,744.0 L248.4,737.7 L250.0,736.3 L251.0,735.5 L256.0,713.5 L261.0,685.0 L265.0,640.0 L269.0,570.0 L273.0,490.0 L278.0,406.0 L283.0,330.0 L290.0,265.0 L297.0,235.0 L305.0,224.0 L308.0,227.2 L309.6,224.2 L311.2,228.8 L312.8,228.0 L314.4,224.8 L316.0,232.4 L317.6,239.0 L319.2,230.7 L320.8,239.8 L322.4,252.5 L324.0,259.0 L325.6,255.1 L327.2,259.9 L328.8,263.1 L330.4,264.7 L332.0,274.2 L333.6,288.1 L335.2,275.0 L336.8,286.5 L338.4,285.6 L340.0,301.0 L341.6,290.0 L343.2,305.9 L344.8,304.7 L346.4,300.6 L348.0,307.8 L349.6,313.6 L351.2,325.5 L352.8,321.6 L354.4,335.2 L356.0,337.4 L357.6,335.9 L359.2,339.4 L360.8,340.9 L362.4,352.4 L364.0,353.8 L365.6,355.1 L367.2,348.3 L368.8,354.1 L370.4,362.1 L372.0,360.1 L373.6,353.9 L375.2,356.4 L376.8,364.4 L378.4,367.2 L380.0,368.0 L381.6,372.8 L383.2,365.1 L384.8,366.5 L386.4,376.4 L388.0,380.6 L389.6,376.2 L391.2,386.3 L392.8,390.0 L394.4,388.2 L396.0,388.2 L397.6,393.1 L399.2,397.3 L400.8,404.8 L402.4,402.8 L404.0,403.2 L405.6,405.5 L407.2,409.6 L408.8,416.1 L410.4,413.8 L412.0,416.9 L413.6,422.4 L415.2,424.6 L416.8,435.5 L418.4,429.1 L420.0,433.1 L421.6,442.8 L423.2,427.5 L424.8,430.5 L426.4,438.8 L428.0,445.4 L429.6,450.8 L431.2,451.3 L432.8,448.3 L434.4,446.8 L436.0,456.4 L437.6,456.6 L439.2,456.2 L440.8,456.4 L442.4,466.3 L444.0,466.9 L445.6,468.2 L447.2,470.1 L448.8,469.4 L450.4,472.2 L452.0,473.8 L453.6,475.5 L455.2,476.2 L456.8,480.3 L458.4,476.7 L460.0,481.6 L461.6,482.3 L463.2,484.9 L464.8,475.6 L466.4,485.9 L468.0,486.3 L469.6,484.2 L471.2,488.3 L472.8,491.1 L474.4,490.8 L476.0,511.3 L477.6,497.5 L479.2,500.4 L480.8,496.0 L482.4,500.9 L484.0,497.4 L485.6,507.9 L487.2,506.5 L488.8,512.4 L490.4,516.0 L492.0,522.5 L493.6,521.0 L495.2,519.6 L496.8,522.6 L498.4,527.9 L500.0,536.9 L501.6,523.6 L503.2,530.2 L504.8,534.4 L506.4,538.3 L508.0,543.0 L509.6,547.1 L511.2,545.8 L512.8,548.8 L514.4,545.4 L516.0,546.8 L517.6,544.7 L519.2,550.3 L520.8,557.9 L522.4,556.2 L524.0,564.6 L525.6,560.2 L527.2,560.4 L528.8,567.9 L530.4,562.0 L532.0,573.3 L533.6,573.1 L535.2,570.6 L536.8,577.2 L538.4,577.6 L540.0,582.3 L541.6,579.2 L543.2,578.6 L544.8,583.1 L546.4,583.8 L548.0,583.8 L549.6,591.1 L551.2,591.5 L552.8,589.0 L554.4,590.4 L556.0,589.3 L557.6,592.3 L559.2,591.2 L560.8,594.6 L562.4,596.8 L564.0,599.8 L565.6,593.9 L567.2,595.9 L568.8,596.1 L570.4,600.8 L572.0,604.9 L573.6,601.6 L575.2,604.7 L576.8,603.2 L578.4,602.3 L580.0,605.1 L581.6,610.0 L583.2,607.2 L584.8,603.1 L586.4,606.0 L588.0,608.9 L589.6,616.3 L591.2,608.8 L592.8,618.7 L594.4,615.1 L596.0,616.6 L597.6,616.7 L599.2,608.7 L600.8,616.4 L602.4,616.9 L604.0,619.1 L605.6,621.9 L607.2,619.7 L608.8,618.3 L610.4,621.2 L612.0,621.3 L613.6,622.7 L615.2,621.9 L616.8,624.0 L618.4,617.4 L620.0,625.5 L621.6,627.3 L623.2,625.6 L624.8,625.9 L626.4,627.8 L628.0,625.5 L629.6,627.2 L631.2,631.7 L632.8,633.4 L634.4,626.4 L636.0,630.6 L637.6,632.5 L639.2,634.4 L640.8,629.3 L642.4,630.9 L644.0,633.2 L645.6,634.6 L647.2,629.9 L648.8,632.6 L650.4,633.9 L652.0,637.4 L653.6,636.2 L655.2,635.9 L656.8,639.2 L658.4,636.2 L660.0,635.2 L661.6,639.7 L663.2,640.0 L664.8,640.5 L666.4,641.3 L668.0,638.0 L669.6,632.7 L671.2,637.7 L672.8,639.1 L674.4,639.6 L676.0,641.7 L677.6,640.4 L679.2,643.5 L680.8,640.8 L682.4,641.8 L684.0,643.7 L685.6,645.2 L687.2,640.3 L688.8,646.0 L690.4,643.6 L692.0,637.7 L693.6,646.4 L695.2,644.0 L696.8,645.9 L698.4,640.9 L700.0,646.0 L701.6,643.6 L703.2,651.7 L704.8,650.6 L706.4,646.9 L708.0,643.6 L709.6,649.9 L711.2,652.1 L712.8,651.2 L714.4,652.8 L716.0,651.7 L717.6,654.0 L719.2,653.9 L720.8,651.6 L722.4,656.0 L724.0,655.7 L725.6,654.3 L727.2,653.5 L728.8,654.1 L730.4,661.6 L732.0,662.2 L733.6,658.8 L735.2,654.9 L736.8,657.3 L738.4,653.6 L740.0,652.6 L741.6,650.5 L743.2,653.1 L744.8,653.6 L746.4,657.8 L748.0,657.5 L749.6,655.7 L751.2,656.0 L752.8,656.8 L754.4,657.4 L756.0,657.6 L757.6,660.4 L759.2,654.1 L760.8,658.0 L762.4,658.4 L764.0,660.1 L765.6,659.3 L767.2,656.7 L768.8,660.2 L770.4,661.1 L772.0,658.2 L773.6,663.3 L775.2,667.4 L776.8,661.2 L778.4,665.0 L780.0,658.2 L781.6,664.3 L783.2,661.9 L784.8,664.6 L786.4,663.0 L788.0,664.5 L789.6,666.2 L791.2,666.0 L792.8,665.8 L794.4,661.6 L796.0,662.0 L797.6,663.2 L799.2,662.6 L800.8,662.6 L802.4,664.8 L804.0,666.3 L805.6,665.2 L807.2,663.2 L808.8,669.6 L810.4,666.7 L812.0,672.6 L813.6,668.8 L815.2,668.7 L816.8,671.5 L818.4,670.0 L820.0,667.2 L821.6,670.6 L823.2,666.3 L824.8,672.1 L826.4,671.7 L828.0,672.3 L829.6,672.2 L831.2,676.7 L832.8,672.9 L834.4,671.7 L836.0,679.1 L837.6,671.7 L839.2,672.9 L840.8,671.6 L842.4,671.1 L844.0,672.3 L845.6,671.0 L847.2,671.8 L848.8,671.7 L850.4,671.4 L852.0,671.0 L853.6,673.9 L855.2,670.0 L856.8,676.3 L858.4,670.7 L860.0,676.2 L861.6,678.1 L863.2,676.3 L864.8,679.0 L866.4,683.0 L868.0,679.1 L869.6,678.3 L871.2,680.1 L872.8,677.2 L874.4,675.0 L876.0,677.9 L877.6,680.7 L879.2,680.1 L880.8,682.0 L882.4,682.5 L884.0,677.0 L885.6,678.7 L887.2,681.4 L888.8,679.6 L890.4,684.5 L892.0,682.3 L893.6,682.4 L895.2,688.6 L896.8,682.1 L898.4,683.1 L900.0,689.1 L901.6,687.1 L903.2,686.3 L904.8,688.3 L906.4,686.1 L908.0,686.4 L909.6,687.6 L911.2,691.6 L912.8,688.4 L914.4,685.9 L916.0,686.7 L917.6,691.1 L919.2,686.7 L920.8,687.0 L922.4,688.6 L924.0,686.0 L925.6,691.7 L927.2,697.5 L928.8,698.9 L930.4,696.6 L932.0,700.6 L933.6,697.4 L935.2,696.8 L936.8,699.3 L938.4,697.8 L940.0,696.7 L941.6,697.8 L943.2,697.9 L944.8,698.8 L946.4,700.8 L948.0,696.3 L949.6,697.0 L951.2,696.6 L952.8,703.8 L954.4,701.6 L956.0,701.9 L957.6,699.7 L959.2,704.6 L960.8,701.1 L962.4,698.5 L964.0,700.7 L965.6,706.2 L967.2,704.2 L968.8,703.6 L970.4,703.3 L972.0,706.5 L973.6,702.5 L975.2,702.9 L976.8,704.3 L978.4,704.7 L980.0,702.9 L981.6,704.4 L983.2,704.5 L984.8,699.4 L986.4,704.6 L988.0,703.7 L989.6,705.1 L991.2,705.5 L992.8,706.7 L994.4,708.3 L996.0,704.6 L997.6,706.7 L999.2,707.7 L1000.8,708.8 L1002.4,704.5 L1004.0,707.8 L1005.6,708.1 L1007.2,706.3 L1008.8,704.9 L1010.4,710.9 L1012.0,712.6 L1013.6,711.3 L1015.2,714.5 L1016.8,713.1 L1018.4,710.6 L1020.0,710.6 L1021.6,716.2 L1023.2,713.9 L1024.8,712.4 L1026.4,716.2 L1028.0,711.9 L1029.6,712.8 L1031.2,716.9 L1032.8,716.3 L1034.4,714.1 L1036.0,717.7 L1037.6,717.4 L1039.2,710.7 L1040.8,715.9 L1042.4,718.1 L1044.0,716.0 L1045.6,713.6 L1047.2,719.2 L1048.8,716.2 L1050.4,719.8 L1052.0,718.9 L1053.6,721.9 L1055.2,718.4 L1056.8,723.8 L1058.4,720.4 L1060.0,720.8 L1061.6,719.8 L1063.2,720.7 L1064.8,721.7 L1066.4,721.7 L1068.0,724.0 L1069.6,723.7 L1071.2,723.1 L1072.8,724.6 L1074.4,725.2 L1076.0,727.1 L1077.6,728.4 L1079.2,723.4 L1080.8,726.7 L1082.4,727.6 L1084.0,722.6 L1085.6,725.8 L1087.2,729.3 L1088.8,725.6 L1090.4,724.8 L1092.0,722.4 L1093.6,727.5 L1095.2,726.5 L1096.8,726.7 L1098.4,727.9 L1100.0,723.3 L1101.6,727.2 L1103.2,731.2 L1104.8,732.3 L1106.4,728.0 L1108.0,724.6 L1109.6,730.5 L1111.2,730.4 L1112.8,731.0 L1114.4,728.7 L1116.0,732.8 L1117.6,729.5 L1119.2,728.7 L1120.8,729.2 L1122.4,731.4 L1124.0,733.0 L1125.6,730.6 L1127.2,734.9 L1128.8,737.7 L1130.4,732.1 L1132.0,737.2 L1133.6,734.7 L1135.2,730.1 L1136.8,738.6 L1138.4,734.9 L1140.0,737.2 L1141.6,736.6 L1143.2,732.2 L1144.8,736.4 L1146.4,740.5 L1148.0,741.4 L1149.6,737.5 L1151.2,742.5 L1152.8,742.5 L1154.4,744.9 L1156.0,746.4 L1157.6,746.3 L1159.2,746.2 L1160.8,745.5 L1162.4,743.2 L1164.0,740.7 L1165.6,743.0 L1167.2,746.1 L1168.8,746.1 L1170.4,743.2 L1172.0,739.9 L1173.6,744.0 L1175.2,743.2 L1176.8,748.1 L1178.4,743.6 L1180.0,744.9 L1181.6,748.1 L1183.2,748.0 L1184.8,749.3 L1186.4,752.7 L1188.0,752.7 L1189.6,755.6 L1191.2,751.0 L1192.8,753.2 L1194.4,759.9 L1196.0,754.9 L1197.6,751.6 L1199.2,753.4 L1200.8,752.9 L1202.4,752.7 L1204.0,756.7 L1205.6,759.5 L1207.2,753.8 L1208.8,754.1 L1210.4,758.9 L1212.0,759.3 L1213.6,757.2 L1215.2,759.7 L1216.8,756.7 L1218.4,760.4 L1220.0,758.3 L1221.6,759.7 L1223.2,760.9 L1224.8,756.5 L1226.4,758.5 L1228.0,759.8 L1229.6,762.6 L1231.2,759.4 L1232.8,756.6 L1234.4,759.7 L1236.0,762.7 L1237.6,762.7 L1239.2,764.0 L1240.8,766.2 L1242.4,765.4 L1244.0,765.0 L1245.6,763.8 L1247.2,760.6 L1248.8,761.3 L1250.4,760.8 L1252.0,759.9 L1253.6,762.3 L1255.2,761.8 L1256.8,761.0 L1258.4,761.1 L1260.0,759.7 L1261.6,768.9 L1263.2,763.6 L1264.8,764.1 L1266.4,761.2 L1268.0,767.6 L1269.6,767.7 L1271.2,769.4 L1272.8,766.3 L1274.4,765.2 L1276.0,772.6 L1277.6,767.9 L1279.2,769.3 L1280.8,769.5 L1282.4,769.9 L1284.0,773.5 L1285.6,771.9 L1287.2,774.1 L1288.8,776.8 L1290.4,775.1 L1292.0,773.6 L1293.6,771.0 L1295.2,775.6 L1296.8,773.4 L1298.4,770.8 L1300.0,775.4 L1301.6,777.7 L1303.2,776.2 L1304.8,775.4 L1306.4,779.4 L1308.0,777.6 L1309.6,773.8 L1311.2,776.4 L1312.8,778.1 L1314.4,776.4 L1316.0,775.9 L1317.6,776.2 L1319.2,781.4 L1320.8,779.6 L1322.4,776.7 L1324.0,781.5 L1325.5,779.9" fill="none" stroke="#a6a6a6" stroke-width="14.5" stroke-linejoin="round" stroke-linecap="round"/>
<path d="M152.4,741.4 L154.0,732.6 L155.6,739.4 L157.2,736.5 L158.8,732.7 L160.4,734.3 L162.0,733.8 L163.6,741.0 L165.2,741.4 L166.8,738.7 L168.4,737.5 L170.0,734.9 L171.6,745.9 L173.2,744.3 L174.8,740.7 L176.4,736.8 L178.0,739.0 L179.6,738.3 L181.2,736.1 L182.8,736.2 L184.4,735.9 L186.0,736.5 L187.6,740.7 L189.2,736.9 L190.8,742.0 L192.4,741.4 L194.0,744.2 L195.6,745.6 L197.2,749.3 L198.8,744.5 L200.4,740.6 L202.0,740.9 L203.6,749.8 L205.2,736.2 L206.8,739.9 L208.4,743.5 L210.0,738.8 L211.6,740.1 L213.2,744.7 L214.8,742.2 L216.4,740.0 L218.0,741.4 L219.6,740.7 L221.2,742.6 L222.8,742.6 L224.4,740.7 L226.0,741.6 L227.6,742.1 L229.2,740.7 L230.8,739.3 L232.4,744.0 L234.0,733.8 L235.6,740.2 L237.2,744.2 L238.8,741.5 L240.4,736.7 L242.0,736.4 L243.6,746.4 L245.2,741.5 L246.8,737.2 L248.4,737.7 L250.0,736.3 L251.0,735.5 L256.0,713.5 L261.0,686.0 L265.0,645.0 L269.0,580.0 L274.0,500.0 L278.0,440.0 L282.0,380.0 L286.0,324.0 L291.0,290.0 L295.0,274.0 L300.0,258.0 L306.0,253.0 L308.0,258.5 L309.6,257.8 L311.2,267.9 L312.8,262.8 L314.4,273.3 L316.0,274.1 L317.6,279.9 L319.2,287.0 L320.8,269.7 L322.4,284.7 L324.0,291.3 L325.6,296.2 L327.2,298.0 L328.8,306.8 L330.4,315.1 L332.0,305.4 L333.6,317.3 L335.2,324.3 L336.8,320.8 L338.4,333.9 L340.0,323.6 L341.6,341.0 L343.2,337.8 L344.8,350.1 L346.4,351.8 L348.0,337.4 L349.6,356.3 L351.2,356.8 L352.8,355.9 L354.4,355.0 L356.0,361.5 L357.6,358.3 L359.2,362.0 L360.8,366.2 L362.4,368.4 L364.0,366.7 L365.6,362.2 L367.2,373.9 L368.8,356.0 L370.4,382.1 L372.0,381.7 L373.6,384.6 L375.2,383.5 L376.8,393.1 L378.4,396.3 L380.0,392.5 L381.6,397.4 L383.2,396.4 L384.8,397.8 L386.4,411.1 L388.0,410.9 L389.6,423.9 L391.2,408.9 L392.8,414.9 L394.4,424.8 L396.0,421.7 L397.6,427.2 L399.2,422.0 L400.8,434.3 L402.4,428.7 L404.0,433.9 L405.6,438.3 L407.2,429.3 L408.8,434.6 L410.4,433.2 L412.0,445.2 L413.6,431.7 L415.2,441.2 L416.8,442.0 L418.4,452.5 L420.0,458.1 L421.6,450.0 L423.2,465.5 L424.8,460.2 L426.4,449.9 L428.0,460.2 L429.6,458.2 L431.2,470.3 L432.8,471.8 L434.4,475.0 L436.0,469.7 L437.6,476.8 L439.2,473.8 L440.8,483.2 L442.4,492.6 L444.0,487.1 L445.6,499.3 L447.2,491.2 L448.8,492.0 L450.4,499.9 L452.0,489.4 L453.6,508.2 L455.2,502.6 L456.8,497.5 L458.4,507.6 L460.0,501.4 L461.6,513.1 L463.2,516.3 L464.8,516.5 L466.4,506.0 L468.0,512.5 L469.6,520.3 L471.2,519.3 L472.8,520.7 L474.4,534.1 L476.0,529.1 L477.6,526.0 L479.2,523.0 L480.8,527.1 L482.4,525.4 L484.0,530.4 L485.6,538.9 L487.2,533.1 L488.8,543.0 L490.4,540.4 L492.0,546.5 L493.6,539.8 L495.2,543.0 L496.8,550.7 L498.4,555.3 L500.0,554.8 L501.6,542.6 L503.2,557.5 L504.8,550.1 L506.4,558.2 L508.0,554.5 L509.6,556.5 L511.2,558.7 L512.8,565.8 L514.4,565.9 L516.0,570.7 L517.6,568.5 L519.2,567.6 L520.8,575.8 L522.4,581.5 L524.0,572.0 L525.6,577.2 L527.2,572.0 L528.8,580.4 L530.4,578.7 L532.0,589.2 L533.6,585.9 L535.2,587.3 L536.8,592.3 L538.4,590.8 L540.0,579.5 L541.6,598.8 L543.2,600.5 L544.8,595.0 L546.4,601.7 L548.0,600.6 L549.6,593.5 L551.2,594.0 L552.8,606.7 L554.4,604.5 L556.0,607.9 L557.6,609.3 L559.2,601.7 L560.8,606.9 L562.4,607.7 L564.0,608.2 L565.6,608.5 L567.2,605.3 L568.8,609.1 L570.4,602.6 L572.0,612.1 L573.6,610.5 L575.2,609.4 L576.8,615.1 L578.4,615.8 L580.0,617.6 L581.6,615.1 L583.2,616.1 L584.8,619.2 L586.4,621.6 L588.0,622.5 L589.6,621.8 L591.2,627.1 L592.8,626.0 L594.4,628.7 L596.0,625.6 L597.6,620.4 L599.2,630.3 L600.8,631.3 L602.4,630.4 L604.0,634.2 L605.6,633.8 L607.2,633.9 L608.8,641.2 L610.4,639.5 L612.0,636.5 L613.6,640.3 L615.2,638.8 L616.8,636.2 L618.4,641.5 L620.0,638.9 L621.6,638.7 L623.2,639.9 L624.8,647.7 L626.4,646.2 L628.0,646.4 L629.6,639.3 L631.2,637.7 L632.8,642.7 L634.4,644.6 L636.0,647.6 L637.6,646.4 L639.2,649.5 L640.8,644.0 L642.4,650.1 L644.0,647.3 L645.6,651.4 L647.2,651.4 L648.8,644.8 L650.4,651.3 L652.0,655.8 L653.6,655.8 L655.2,654.8 L656.8,650.2 L658.4,650.5 L660.0,654.0 L661.6,647.9 L663.2,653.6 L664.8,651.7 L666.4,656.4 L668.0,658.0 L669.6,653.0 L671.2,650.3 L672.8,650.7 L674.4,652.6 L676.0,642.8 L677.6,653.8 L679.2,652.3 L680.8,656.8 L682.4,661.3 L684.0,646.7 L685.6,649.2 L687.2,654.2 L688.8,650.1 L690.4,655.8 L692.0,662.8 L693.6,652.8 L695.2,654.7 L696.8,657.1 L698.4,661.9 L700.0,654.2 L701.6,660.4 L703.2,659.9 L704.8,660.1 L706.4,655.2 L708.0,661.3 L709.6,662.7 L711.2,657.4 L712.8,670.5 L714.4,663.7 L716.0,661.8 L717.6,665.9 L719.2,663.9 L720.8,664.7 L722.4,660.8 L724.0,667.8 L725.6,665.4 L727.2,664.1 L728.8,668.5 L730.4,662.8 L732.0,666.6 L733.6,666.6 L735.2,670.1 L736.8,670.5 L738.4,667.5 L740.0,667.8 L741.6,664.5 L743.2,658.7 L744.8,669.2 L746.4,670.3 L748.0,662.0 L749.6,658.4 L751.2,661.9 L752.8,660.3 L754.4,666.9 L756.0,670.1 L757.6,665.0 L759.2,662.7 L760.8,669.4 L762.4,666.9 L764.0,663.2 L765.6,666.6 L767.2,670.9 L768.8,670.2 L770.4,664.5 L772.0,668.3 L773.6,670.8 L775.2,675.3 L776.8,673.5 L778.4,677.9 L780.0,669.7 L781.6,673.3 L783.2,669.6 L784.8,677.4 L786.4,668.4 L788.0,671.7 L789.6,677.7 L791.2,674.1 L792.8,677.5 L794.4,674.6 L796.0,677.3 L797.6,686.0 L799.2,674.6 L800.8,677.1 L802.4,678.0 L804.0,678.7 L805.6,683.4 L807.2,673.8 L808.8,684.0 L810.4,682.3 L812.0,678.4 L813.6,680.0 L815.2,677.0 L816.8,682.4 L818.4,680.8 L820.0,678.4 L821.6,680.7 L823.2,673.0 L824.8,679.3 L826.4,676.4 L828.0,682.4 L829.6,681.4 L831.2,680.9 L832.8,681.8 L834.4,682.7 L836.0,684.1 L837.6,685.4 L839.2,688.2 L840.8,692.3 L842.4,689.6 L844.0,686.3 L845.6,687.1 L847.2,688.0 L848.8,691.6 L850.4,685.2 L852.0,691.0 L853.6,684.2 L855.2,683.7 L856.8,686.3 L858.4,692.0 L860.0,690.1 L861.6,685.4 L863.2,679.9 L864.8,691.4 L866.4,694.0 L868.0,688.5 L869.6,685.5 L871.2,690.3 L872.8,691.5 L874.4,692.8 L876.0,698.1 L877.6,692.6 L879.2,687.7 L880.8,696.4 L882.4,688.1 L884.0,697.5 L885.6,694.7 L887.2,697.2 L888.8,697.9 L890.4,697.1 L892.0,694.5 L893.6,699.5 L895.2,698.5 L896.8,689.4 L898.4,702.2 L900.0,696.2 L901.6,704.0 L903.2,706.0 L904.8,698.2 L906.4,701.4 L908.0,707.6 L909.6,704.4 L911.2,698.9 L912.8,695.3 L914.4,706.6 L916.0,703.3 L917.6,708.6 L919.2,702.2 L920.8,709.6 L922.4,706.5 L924.0,698.9 L925.6,707.5 L927.2,702.9 L928.8,702.2 L930.4,706.3 L932.0,710.1 L933.6,702.8 L935.2,711.1 L936.8,709.5 L938.4,714.9 L940.0,708.8 L941.6,713.2 L943.2,712.9 L944.8,712.4 L946.4,713.1 L948.0,714.4 L949.6,715.3 L951.2,713.5 L952.8,714.7 L954.4,715.0 L956.0,713.9 L957.6,713.0 L959.2,717.6 L960.8,713.4 L962.4,716.0 L964.0,708.9 L965.6,720.5 L967.2,716.4 L968.8,714.5 L970.4,713.7 L972.0,713.1 L973.6,711.9 L975.2,720.0 L976.8,715.9 L978.4,712.4 L980.0,712.7 L981.6,715.8 L983.2,721.4 L984.8,718.3 L986.4,714.1 L988.0,713.1 L989.6,717.8 L991.2,718.4 L992.8,717.4 L994.4,716.0 L996.0,713.2 L997.6,714.9 L999.2,718.3 L1000.8,716.1 L1002.4,719.8 L1004.0,718.4 L1005.6,720.1 L1007.2,727.0 L1008.8,724.9 L1010.4,724.0 L1012.0,721.7 L1013.6,722.1 L1015.2,729.0 L1016.8,725.8 L1018.4,726.7 L1020.0,716.1 L1021.6,729.6 L1023.2,729.1 L1024.8,721.3 L1026.4,724.5 L1028.0,728.1 L1029.6,730.7 L1031.2,728.0 L1032.8,727.9 L1034.4,726.5 L1036.0,725.4 L1037.6,732.1 L1039.2,730.1 L1040.8,728.1 L1042.4,726.5 L1044.0,725.5 L1045.6,727.3 L1047.2,725.7 L1048.8,730.7 L1050.4,728.4 L1052.0,731.9 L1053.6,723.2 L1055.2,729.2 L1056.8,728.3 L1058.4,731.6 L1060.0,726.0 L1061.6,728.2 L1063.2,727.6 L1064.8,729.8 L1066.4,732.2 L1068.0,725.2 L1069.6,733.9 L1071.2,734.8 L1072.8,731.4 L1074.4,732.7 L1076.0,744.6 L1077.6,739.2 L1079.2,736.3 L1080.8,735.5 L1082.4,731.2 L1084.0,728.0 L1085.6,732.8 L1087.2,732.6 L1088.8,733.3 L1090.4,734.7 L1092.0,733.0 L1093.6,728.4 L1095.2,735.4 L1096.8,739.3 L1098.4,735.9 L1100.0,739.7 L1101.6,738.4 L1103.2,740.5 L1104.8,737.3 L1106.4,737.7 L1108.0,733.1 L1109.6,742.7 L1111.2,736.0 L1112.8,735.9 L1114.4,737.6 L1116.0,739.4 L1117.6,738.0 L1119.2,739.8 L1120.8,737.6 L1122.4,738.2 L1124.0,739.0 L1125.6,739.0 L1127.2,740.5 L1128.8,738.3 L1130.4,743.0 L1132.0,744.8 L1133.6,743.6 L1135.2,748.9 L1136.8,740.9 L1138.4,739.9 L1140.0,736.9 L1141.6,741.6 L1143.2,741.8 L1144.8,741.3 L1146.4,740.9 L1148.0,742.7 L1149.6,740.0 L1151.2,740.4 L1152.8,746.8 L1154.4,738.1 L1156.0,748.4 L1157.6,748.4 L1159.2,754.7 L1160.8,754.4 L1162.4,745.3 L1164.0,751.5 L1165.6,745.1 L1167.2,750.4 L1168.8,746.6 L1170.4,744.9 L1172.0,749.7 L1173.6,752.8 L1175.2,751.0 L1176.8,746.9 L1178.4,747.4 L1180.0,751.3 L1181.6,747.8 L1183.2,752.7 L1184.8,752.7 L1186.4,755.0 L1188.0,753.9 L1189.6,752.7 L1191.2,757.5 L1192.8,752.3 L1194.4,750.6 L1196.0,756.0 L1197.6,758.8 L1199.2,751.3 L1200.8,756.1 L1202.4,761.3 L1204.0,757.7 L1205.6,762.3 L1207.2,762.6 L1208.8,760.7 L1210.4,756.3 L1212.0,756.3 L1213.6,756.7 L1215.2,760.8 L1216.8,755.8 L1218.4,752.5 L1220.0,763.5 L1221.6,755.5 L1223.2,760.5 L1224.8,756.4 L1226.4,757.0 L1228.0,766.0 L1229.6,765.2 L1231.2,760.3 L1232.8,761.2 L1234.4,762.5 L1236.0,760.2 L1237.6,760.6 L1239.2,763.5 L1240.8,761.0 L1242.4,763.7 L1244.0,766.1 L1245.6,765.7 L1247.2,763.3 L1248.8,767.4 L1250.4,768.3 L1252.0,767.2 L1253.6,768.3 L1255.2,770.0 L1256.8,765.0 L1258.4,767.2 L1260.0,769.5 L1261.6,768.2 L1263.2,766.0 L1264.8,763.3 L1266.4,767.4 L1268.0,765.1 L1269.6,767.1 L1271.2,769.7 L1272.8,768.6 L1274.4,769.6 L1276.0,767.8 L1277.6,771.5 L1279.2,771.3 L1280.8,769.7 L1282.4,772.3 L1284.0,769.7 L1285.6,770.6 L1287.2,773.4 L1288.8,774.5 L1290.4,773.0 L1292.0,768.9 L1293.6,771.9 L1295.2,766.9 L1296.8,776.5 L1298.4,766.4 L1300.0,770.2 L1301.6,772.9 L1303.2,770.8 L1304.8,777.0 L1306.4,777.5 L1308.0,776.7 L1309.6,780.3 L1311.2,779.6 L1312.8,777.0 L1314.4,779.3 L1316.0,777.0 L1317.6,783.6 L1319.2,778.3 L1320.8,776.6 L1322.4,779.7 L1324.0,781.2 L1325.5,776.5" fill="none" stroke="#d9d9d9" stroke-width="14.5" stroke-linejoin="round" stroke-linecap="round"/>
<path d="M146.5,506.9 L150.1,508.8 L153.7,498.1 L157.3,501.0 L160.9,506.4 M180.8,506.4 L183.6,513.5 L186.3,515.1 L189.1,515.4 L191.8,505.5 M213.3,508.7 L217.3,507.0 L221.3,514.8 L225.3,518.8 L229.3,517.9 M250.2,517.3 L254.2,503.3 L258.1,510.5 L262.0,505.3 M281.5,509.9 L285.2,508.1 L289.0,502.3 L292.7,498.2 M316.0,507.0 L321.2,503.7 L326.5,498.4 L331.7,509.2 M353.0,492.1 L356.2,495.9 L359.4,491.8 L362.6,495.6 L365.8,495.9 M389.5,481.7 L394.8,487.2 L400.1,486.1 L405.4,482.4 M428.3,487.5 L432.9,478.4 L437.5,493.5 L442.1,480.8 M462.5,484.4 L466.4,479.7 L470.2,477.9 L474.1,480.2 M492.4,477.8 L496.9,474.3 L501.4,464.8 L506.0,468.7 M527.0,457.2 L531.0,456.3 L535.1,456.0 L539.2,443.9 M561.1,438.8 L566.1,445.9 L571.2,441.2 L576.2,430.8 M599.4,430.2 L603.3,423.4 L607.2,427.1 L611.1,437.9 M633.3,415.5 L638.2,414.8 L643.1,417.5 L648.0,409.2 M669.9,409.6 L673.7,416.2 L677.6,408.4 L681.5,416.7 L685.4,414.7 M711.0,394.1 L713.8,391.9 L716.6,395.4 L719.3,396.1 L722.1,387.3 M747.4,389.5 L751.3,392.7 L755.2,384.4 L759.0,382.0 M777.6,387.6 L780.5,380.0 L783.4,386.7 L786.3,381.4 L789.2,382.8 M808.7,368.4 L813.0,370.3 L817.3,367.2 L821.6,371.6 M846.5,360.7 L850.8,354.4 L855.1,362.2 L859.5,353.0 M883.4,356.0 L887.5,344.0 L891.6,350.1 L895.7,332.7 M914.5,343.1 L918.0,337.5 L921.5,335.7 L925.0,331.3 L928.5,334.5 M953.0,338.2 L957.0,333.9 L960.9,321.7 L964.9,333.3 L968.9,323.2 M993.3,314.0 L998.6,309.1 L1003.9,308.8 L1009.2,314.1 M1034.2,309.1 L1038.0,306.7 L1041.8,313.0 L1045.6,307.7 M1067.2,296.3 L1070.3,300.4 L1073.3,302.8 L1076.4,292.7 L1079.4,298.6 M1100.4,293.4 L1105.1,284.7 L1109.7,290.9 L1114.4,282.5 M1139.3,296.0 L1142.9,279.6 L1146.5,288.1 L1150.1,288.4 L1153.8,270.9 M1179.7,285.2 L1182.4,274.7 L1185.2,272.4 L1188.0,276.4 L1190.7,278.3 M1213.7,268.1 L1216.9,271.4 L1220.1,272.4 L1223.3,265.2 L1226.6,262.4 M1249.2,261.0 L1253.2,261.2 L1257.2,269.9 L1261.2,264.0 M1280.8,255.8 L1284.2,253.0 L1287.7,251.2 L1291.2,257.3 L1294.7,246.7 M1318.1,258.6 L1321.7,254.7 L1325.3,247.2 L1328.9,250.4 L1332.4,239.4" fill="none" stroke="#0d0d0d" stroke-width="14.5" stroke-linejoin="round" stroke-linecap="round"/>
<path d="M117.9,516.9 L121.8,518.0 L125.7,512.8 L129.6,526.5 M148.2,516.7 L152.4,525.4 L156.5,526.5 L160.6,517.2 M186.0,521.9 L190.8,522.3 L195.7,528.2 L200.5,524.7 M222.8,528.2 L227.6,523.1 L232.5,527.5 L237.4,538.6 M257.9,524.6 L262.9,519.5 L267.8,516.9 L272.8,516.5 M294.2,519.1 L297.2,522.9 L300.3,517.1 L303.4,513.1 L306.4,519.9 M329.1,517.9 L332.2,507.0 L335.3,515.1 L338.5,517.8 L341.6,514.8 M365.8,509.3 L369.6,512.7 L373.4,520.4 L377.1,516.7 M396.5,516.4 L399.9,502.8 L403.4,502.5 L406.8,508.4 L410.2,506.9 M434.5,507.2 L439.4,510.6 L444.3,495.7 L449.1,495.4 M471.1,508.4 L474.5,498.8 L477.9,490.4 L481.4,498.0 L484.8,492.7 M509.0,486.3 L512.8,483.8 L516.6,476.0 L520.4,481.5 L524.1,478.6 M547.7,473.0 L551.0,472.7 L554.3,472.5 L557.5,475.5 L560.8,473.5 M582.7,459.3 L586.5,460.5 L590.3,453.9 L594.1,456.4 M614.8,450.2 L619.7,448.1 L624.6,444.6 L629.5,445.5 M650.6,436.3 L654.2,440.2 L657.9,439.5 L661.6,442.5 L665.3,444.6 M684.6,437.8 L688.4,433.2 L692.3,428.8 L696.2,427.8 L700.0,426.2 M724.1,421.6 L726.9,416.0 L729.7,415.5 L732.4,416.8 L735.2,411.6 M759.7,410.4 L762.5,410.1 L765.2,417.6 L768.0,400.3 L770.8,404.4 M791.0,404.0 L794.8,404.7 L798.6,404.7 L802.4,406.2 L806.2,389.9 M830.7,385.0 L836.0,387.8 L841.3,387.6 L846.6,383.4 M869.9,385.7 L874.5,378.2 L879.0,379.2 L883.6,367.5 M903.2,363.1 L907.4,368.8 L911.7,380.7 L916.0,369.6 M939.5,363.6 L944.5,364.3 L949.5,366.3 L954.5,370.3 M975.8,350.0 L979.3,358.3 L982.8,351.0 L986.4,347.8 L989.9,348.9 M1015.5,342.9 L1020.3,343.2 L1025.1,343.9 L1029.9,337.2 M1048.1,330.3 L1052.3,336.7 L1056.5,331.7 L1060.7,331.0 M1079.8,319.1 L1084.1,325.3 L1088.5,331.5 L1092.8,325.1 M1111.1,329.0 L1116.4,323.6 L1121.6,316.7 L1126.9,318.7 M1146.8,317.8 L1149.8,321.1 L1152.7,312.9 L1155.7,322.5 L1158.6,317.6 M1181.9,311.2 L1185.8,310.3 L1189.7,307.3 L1193.6,301.9 L1197.4,307.0 M1217.7,310.5 L1221.4,308.9 L1225.1,302.1 L1228.8,299.4 M1251.3,296.0 L1255.0,301.7 L1258.7,292.3 L1262.5,293.5 L1266.2,297.4 M1289.7,284.1 L1293.7,286.9 L1297.6,279.8 L1301.5,284.6 L1305.4,281.7 M1329.8,278.0 L1334.2,274.2 L1338.5,280.0 L1342.9,275.5" fill="none" stroke="#595959" stroke-width="14.5" stroke-linejoin="round" stroke-linecap="round"/>
<path d="M119.1,510.6 L124.4,506.9 L129.6,513.3 L134.8,509.6 M153.0,520.1 L157.7,518.0 L162.4,508.9 L167.1,510.1 M190.1,512.3 L194.5,509.3 L198.9,513.6 L203.2,513.3 M225.8,511.4 L229.6,510.2 L233.4,518.1 L237.2,515.9 L241.1,511.4 M262.6,511.2 L267.4,503.3 L272.1,505.8 L276.9,502.9 M299.5,507.2 L302.4,498.0 L305.2,501.7 L308.1,503.1 L310.9,509.0 M331.2,499.3 L334.4,506.5 L337.5,504.6 L340.6,496.6 L343.8,489.9 M363.7,495.7 L368.2,497.1 L372.8,494.0 L377.4,492.2 M401.9,492.2 L406.7,476.9 L411.5,473.8 L416.3,484.0 M440.3,486.4 L443.5,485.6 L446.7,491.6 L449.8,485.2 L453.0,479.2 M473.4,474.1 L477.2,478.6 L481.0,479.2 L484.8,475.9 M508.9,470.5 L512.5,455.9 L516.1,462.2 L519.7,458.2 L523.2,458.3 M546.3,448.3 L549.4,452.7 L552.4,454.0 L555.5,443.6 L558.5,451.2 M576.7,441.2 L579.7,451.8 L582.6,444.4 L585.5,440.7 L588.4,433.3 M610.9,432.1 L614.3,426.7 L617.6,425.2 L620.9,425.3 L624.3,430.9 M645.5,418.8 L650.5,420.4 L655.5,413.4 L660.5,415.4 M684.1,407.9 L688.5,408.9 L693.0,404.8 L697.5,411.5 M719.4,395.6 L723.2,395.5 L726.9,395.3 L730.6,400.4 L734.3,391.7 M755.1,398.0 L758.3,387.1 L761.5,391.2 L764.8,380.0 L768.0,381.9 M789.1,380.7 L794.2,381.3 L799.4,377.1 L804.5,378.3 M827.1,379.4 L831.5,368.8 L835.9,380.8 L840.3,364.8 M864.7,351.9 L867.8,354.4 L870.9,356.8 L874.0,352.3 L877.1,347.7 M898.0,351.7 L903.3,348.9 L908.6,346.7 L913.9,332.0 M933.0,342.4 L936.6,332.9 L940.2,336.2 L943.8,342.0 L947.4,332.6 M970.2,334.7 L974.4,333.5 L978.6,341.3 L982.8,335.5 M1002.6,318.7 L1006.1,315.8 L1009.5,321.2 L1013.0,325.1 L1016.5,317.9 M1039.8,303.0 L1045.0,320.8 L1050.3,304.7 L1055.6,317.4 M1077.5,297.1 L1081.7,303.5 L1086.0,306.3 L1090.2,304.6 M1111.7,289.4 L1115.4,305.6 L1119.2,300.0 L1123.0,296.3 L1126.8,296.7 M1147.7,283.5 L1152.2,287.4 L1156.7,281.9 L1161.2,289.5 M1186.6,280.7 L1190.5,287.2 L1194.5,279.5 L1198.5,278.1 L1202.5,285.2 M1223.8,269.4 L1227.0,279.3 L1230.2,269.9 L1233.4,272.1 L1236.6,264.4 M1260.6,264.7 L1264.5,260.8 L1268.4,259.4 L1272.3,256.0 L1276.2,255.5 M1299.1,250.6 L1303.6,253.5 L1308.2,262.2 L1312.7,244.6 M1338.2,252.7 L1341.7,251.5 L1345.1,253.3 L1348.5,245.7 L1352.0,254.0" fill="none" stroke="#a6a6a6" stroke-width="14.5" stroke-linejoin="round" stroke-linecap="round"/>
<path d="M126.8,514.9 L131.8,515.6 L136.9,518.4 L142.0,507.3 M166.4,500.9 L170.5,513.5 L174.7,512.6 L178.8,510.2 M201.0,506.2 L204.9,518.8 L208.9,511.4 L212.8,511.6 L216.7,518.4 M240.2,509.8 L245.5,519.1 L250.7,503.2 L256.0,505.4 M274.6,516.0 L278.4,495.9 L282.2,511.4 L286.0,505.7 M310.0,501.0 L315.2,501.5 L320.4,499.5 L325.6,504.1 M349.9,507.9 L353.2,499.2 L356.6,495.5 L359.9,497.9 L363.3,495.6 M386.4,492.9 L390.0,494.8 L393.5,494.5 L397.1,491.7 L400.6,485.6 M424.6,492.1 L428.4,486.8 L432.2,488.2 L435.9,490.4 L439.7,485.1 M461.3,489.7 L466.3,487.2 L471.2,480.1 L476.1,484.6 M498.1,470.8 L501.5,470.9 L504.9,473.5 L508.3,470.2 L511.7,467.3 M534.4,460.7 L538.1,456.8 L541.9,454.5 L545.6,453.9 L549.4,458.2 M571.0,454.1 L574.6,445.0 L578.2,445.0 L581.8,441.3 L585.4,442.1 M609.7,432.1 L614.7,432.1 L619.8,427.0 L624.9,430.2 M643.1,431.3 L647.0,424.0 L651.0,420.9 L654.9,417.7 L658.9,420.4 M680.9,410.9 L683.8,413.5 L686.6,409.1 L689.5,402.5 L692.3,407.1 M717.7,403.8 L722.4,407.1 L727.2,404.9 L732.0,404.5 M757.7,393.5 L761.8,405.6 L766.0,401.4 L770.1,387.9 M795.3,387.0 L799.2,383.9 L803.1,387.4 L807.0,379.1 L810.9,374.2 M835.0,377.9 L839.8,360.6 L844.6,369.1 L849.4,368.7 M874.0,364.9 L876.8,357.3 L879.5,352.9 L882.3,354.0 L885.1,358.1 M910.6,356.5 L915.2,338.6 L919.8,343.1 L924.4,344.5 M948.9,341.9 L952.9,344.0 L956.8,331.3 L960.8,344.5 L964.7,336.0 M987.2,331.7 L991.3,330.9 L995.3,330.0 L999.4,319.5 M1022.5,318.8 L1027.0,322.3 L1031.6,325.7 L1036.2,316.2 M1055.3,305.4 L1059.2,310.3 L1063.0,309.2 L1066.9,306.4 M1089.0,311.2 L1093.5,303.6 L1097.9,304.0 L1102.3,304.6 M1127.6,305.5 L1130.7,294.8 L1133.7,300.4 L1136.8,300.6 L1139.8,296.3 M1165.4,286.2 L1170.1,295.8 L1174.8,280.9 L1179.4,275.2 M1199.3,286.7 L1202.7,285.0 L1206.2,279.9 L1209.7,275.0 L1213.2,279.5 M1231.7,283.7 L1235.1,276.3 L1238.5,266.0 L1241.9,275.8 L1245.4,272.0 M1269.9,265.6 L1273.8,271.9 L1277.6,268.4 L1281.4,265.0 L1285.2,260.7 M1310.6,256.9 L1313.9,250.9 L1317.2,263.6 L1320.5,256.7 L1323.8,248.4" fill="none" stroke="#d9d9d9" stroke-width="14.5" stroke-linejoin="round" stroke-linecap="round"/></g>
<line x1="208.4" y1="178" x2="208.4" y2="863" stroke="#3c3c3c" stroke-width="2.6"/>
<path d="M198.7,861.3 L218.4,861.3 L208.6,880.5 Z" fill="#000"/>
<text x="254.5" y="110.6" font-size="48.0" font-weight="normal" text-anchor="middle" fill="#000" textLength="98" lengthAdjust="spacingAndGlyphs">PMA</text>
<text x="252.3" y="164.7" font-size="48.0" font-weight="normal" text-anchor="middle" fill="#000" textLength="152" lengthAdjust="spacingAndGlyphs">additon</text>
<g transform="translate(63.00,600.00) rotate(-90) scale(0.9520,1)"><text fill="#262626"><tspan x="8.17" y="0.00" font-size="39.0" font-weight="bold">CL-O</tspan><tspan x="104.23" y="8.00" font-size="23.5" font-weight="bold">2</tspan><tspan x="117.84" y="-13.00" font-size="22.0" font-weight="bold">-</tspan><tspan x="128.63" y="-13.00" font-size="18.0" font-weight="bold">&#8226;</tspan><tspan x="145.17" y="0.00" font-size="38.0" font-weight="bold">(</tspan><tspan x="160.76" y="2.20" font-size="44.8" font-weight="normal">&#215;</tspan><tspan x="190.82" y="0.00" font-size="39.0" font-weight="bold">10</tspan><tspan x="234.73" y="-13.00" font-size="24.4" font-weight="bold">3</tspan><tspan x="250.70" y="0.00" font-size="38.0" font-weight="bold">)</tspan></text></g>
<g transform="translate(1433.00,350.00) rotate(90) scale(0.9550,1)"><text fill="#262626"><tspan x="3.78" y="0.00" font-size="39.0" font-weight="bold">FL-OCl</tspan><tspan x="135.27" y="-11.80" font-size="22.0" font-weight="bold">-</tspan><tspan x="150.78" y="0.00" font-size="38.0" font-weight="bold">(</tspan><tspan x="166.76" y="3.80" font-size="47.5" font-weight="normal">&#215;</tspan><tspan x="197.54" y="0.00" font-size="39.0" font-weight="bold">10</tspan><tspan x="240.25" y="-12.90" font-size="25.0" font-weight="bold">4</tspan><tspan x="254.94" y="0.00" font-size="38.0" font-weight="bold">)</tspan></text></g>
<line x1="49.2" y1="1054.3" x2="133.8" y2="1054.3" stroke="#0d0d0d" stroke-width="12.5" stroke-linecap="round"/>
<path d="M49.2,1108.8 H74.8 M100.7,1108.8 H126.3" stroke="#0d0d0d" stroke-width="12.5" stroke-linecap="round"/>
<text font-size="35.5" fill="#000"><tspan x="144.4" y="1067" textLength="178" lengthAdjust="spacingAndGlyphs">CH1_CL-O</tspan><tspan x="322.5" y="1077" font-size="24">2</tspan><tspan x="336.8" y="1056.3" font-size="26">-</tspan><tspan x="349.0" y="1053.6" font-size="20">&#8226;</tspan></text>
<text font-size="35.5" fill="#000"><tspan x="144.4" y="1120.5" textLength="210" lengthAdjust="spacingAndGlyphs">CH1_FL-OCl</tspan><tspan x="354.7" y="1110.4" font-size="22">-</tspan></text>
<line x1="424.9" y1="1054.3" x2="509.5" y2="1054.3" stroke="#595959" stroke-width="12.5" stroke-linecap="round"/>
<path d="M424.9,1108.8 H450.5 M476.4,1108.8 H502.0" stroke="#595959" stroke-width="12.5" stroke-linecap="round"/>
<text font-size="35.5" fill="#000"><tspan x="521.1" y="1067" textLength="178" lengthAdjust="spacingAndGlyphs">CH2_CL-O</tspan><tspan x="699.2" y="1077" font-size="24">2</tspan><tspan x="713.5" y="1056.3" font-size="26">-</tspan><tspan x="725.7" y="1053.6" font-size="20">&#8226;</tspan></text>
<text font-size="35.5" fill="#000"><tspan x="521.1" y="1120.5" textLength="210" lengthAdjust="spacingAndGlyphs">CH2_FL-OCl</tspan><tspan x="731.4" y="1110.4" font-size="22">-</tspan></text>
<line x1="802.2" y1="1054.3" x2="886.8" y2="1054.3" stroke="#a6a6a6" stroke-width="12.5" stroke-linecap="round"/>
<path d="M802.2,1108.8 H827.8 M853.7,1108.8 H879.3" stroke="#a6a6a6" stroke-width="12.5" stroke-linecap="round"/>
<text font-size="35.5" fill="#000"><tspan x="896.9" y="1067" textLength="178" lengthAdjust="spacingAndGlyphs">CH3_CL-O</tspan><tspan x="1075.0" y="1077" font-size="24">2</tspan><tspan x="1089.3" y="1056.3" font-size="26">-</tspan><tspan x="1101.5" y="1053.6" font-size="20">&#8226;</tspan></text>
<text font-size="35.5" fill="#000"><tspan x="896.9" y="1120.5" textLength="210" lengthAdjust="spacingAndGlyphs">CH3_FL-OCl</tspan><tspan x="1107.2" y="1110.4" font-size="22">-</tspan></text>
<line x1="1179.5" y1="1054.3" x2="1264.1" y2="1054.3" stroke="#d9d9d9" stroke-width="12.5" stroke-linecap="round"/>
<path d="M1179.5,1108.8 H1205.1 M1231.0,1108.8 H1256.6" stroke="#d9d9d9" stroke-width="12.5" stroke-linecap="round"/>
<text font-size="35.5" fill="#000"><tspan x="1273.7" y="1067" textLength="178" lengthAdjust="spacingAndGlyphs">CH4_CL-O</tspan><tspan x="1451.8" y="1077" font-size="24">2</tspan><tspan x="1466.1" y="1056.3" font-size="26">-</tspan><tspan x="1478.3" y="1053.6" font-size="20">&#8226;</tspan></text>
<text font-size="35.5" fill="#000"><tspan x="1273.7" y="1120.5" textLength="210" lengthAdjust="spacingAndGlyphs">CH4_FL-OCl</tspan><tspan x="1484.0" y="1110.4" font-size="22">-</tspan></text>
<text x="0" y="0" font-size="96.4" transform="translate(192.5,1289)">B</text>
<defs><pattern id="sph" x="775.3" y="1404.8" width="20" height="20" patternUnits="userSpaceOnUse"><rect width="20" height="20" fill="#fff"/><path d="M1.70,-0.80 H8.30 L11.20,2.10 V7.90 L8.30,10.80 H1.70 L-1.20,7.90 V2.10 Z" fill="#1e1e1e"/><path d="M11.70,9.20 H18.30 L21.20,12.10 V17.90 L18.30,20.80 H11.70 L8.80,17.90 V12.10 Z" fill="#1e1e1e"/><path d="M-8.30,-10.80 H-1.70 L1.20,-7.90 V-2.10 L-1.70,0.80 H-8.30 L-11.20,-2.10 V-7.90 Z" fill="#1e1e1e"/><path d="M21.70,19.20 H28.30 L31.20,22.10 V27.90 L28.30,30.80 H21.70 L18.80,27.90 V22.10 Z" fill="#1e1e1e"/><path d="M-8.30,9.20 H-1.70 L1.20,12.10 V17.90 L-1.70,20.80 H-8.30 L-11.20,17.90 V12.10 Z" fill="#1e1e1e"/><path d="M11.70,-10.80 H18.30 L21.20,-7.90 V-2.10 L18.30,0.80 H11.70 L8.80,-2.10 V-7.90 Z" fill="#1e1e1e"/><path d="M21.70,-0.80 H28.30 L31.20,2.10 V7.90 L28.30,10.80 H21.70 L18.80,7.90 V2.10 Z" fill="#1e1e1e"/><path d="M1.70,19.20 H8.30 L11.20,22.10 V27.90 L8.30,30.80 H1.70 L-1.20,27.90 V22.10 Z" fill="#1e1e1e"/><path d="M-8.30,19.20 H-1.70 L1.20,22.10 V27.90 L-1.70,30.80 H-8.30 L-11.20,27.90 V22.10 Z" fill="#1e1e1e"/><path d="M21.70,-10.80 H28.30 L31.20,-7.90 V-2.10 L28.30,0.80 H21.70 L18.80,-2.10 V-7.90 Z" fill="#1e1e1e"/><rect x="1.60" y="1.75" width="4.8" height="1.7" fill="#fff"/><rect x="11.60" y="11.75" width="4.8" height="1.7" fill="#fff"/><rect x="-8.40" y="-8.25" width="4.8" height="1.7" fill="#fff"/><rect x="21.60" y="21.75" width="4.8" height="1.7" fill="#fff"/><rect x="-8.40" y="11.75" width="4.8" height="1.7" fill="#fff"/><rect x="11.60" y="-8.25" width="4.8" height="1.7" fill="#fff"/><rect x="21.60" y="1.75" width="4.8" height="1.7" fill="#fff"/><rect x="1.60" y="21.75" width="4.8" height="1.7" fill="#fff"/><rect x="-8.40" y="21.75" width="4.8" height="1.7" fill="#fff"/><rect x="21.60" y="-8.25" width="4.8" height="1.7" fill="#fff"/></pattern><pattern id="sph2" x="1423.59" y="2411.03" width="20" height="20" patternUnits="userSpaceOnUse" patternTransform="scale(0.78)"><rect width="20" height="20" fill="#fff"/><path d="M1.70,-0.80 H8.30 L11.20,2.10 V7.90 L8.30,10.80 H1.70 L-1.20,7.90 V2.10 Z" fill="#1e1e1e"/><path d="M11.70,9.20 H18.30 L21.20,12.10 V17.90 L18.30,20.80 H11.70 L8.80,17.90 V12.10 Z" fill="#1e1e1e"/><path d="M-8.30,-10.80 H-1.70 L1.20,-7.90 V-2.10 L-1.70,0.80 H-8.30 L-11.20,-2.10 V-7.90 Z" fill="#1e1e1e"/><path d="M21.70,19.20 H28.30 L31.20,22.10 V27.90 L28.30,30.80 H21.70 L18.80,27.90 V22.10 Z" fill="#1e1e1e"/><path d="M-8.30,9.20 H-1.70 L1.20,12.10 V17.90 L-1.70,20.80 H-8.30 L-11.20,17.90 V12.10 Z" fill="#1e1e1e"/><path d="M11.70,-10.80 H18.30 L21.20,-7.90 V-2.10 L18.30,0.80 H11.70 L8.80,-2.10 V-7.90 Z" fill="#1e1e1e"/><path d="M21.70,-0.80 H28.30 L31.20,2.10 V7.90 L28.30,10.80 H21.70 L18.80,7.90 V2.10 Z" fill="#1e1e1e"/><path d="M1.70,19.20 H8.30 L11.20,22.10 V27.90 L8.30,30.80 H1.70 L-1.20,27.90 V22.10 Z" fill="#1e1e1e"/><path d="M-8.30,19.20 H-1.70 L1.20,22.10 V27.90 L-1.70,30.80 H-8.30 L-11.20,27.90 V22.10 Z" fill="#1e1e1e"/><path d="M21.70,-10.80 H28.30 L31.20,-7.90 V-2.10 L28.30,0.80 H21.70 L18.80,-2.10 V-7.90 Z" fill="#1e1e1e"/><rect x="1.60" y="1.75" width="4.8" height="1.7" fill="#fff"/><rect x="11.60" y="11.75" width="4.8" height="1.7" fill="#fff"/><rect x="-8.40" y="-8.25" width="4.8" height="1.7" fill="#fff"/><rect x="21.60" y="21.75" width="4.8" height="1.7" fill="#fff"/><rect x="-8.40" y="11.75" width="4.8" height="1.7" fill="#fff"/><rect x="11.60" y="-8.25" width="4.8" height="1.7" fill="#fff"/><rect x="21.60" y="1.75" width="4.8" height="1.7" fill="#fff"/><rect x="1.60" y="21.75" width="4.8" height="1.7" fill="#fff"/><rect x="-8.40" y="21.75" width="4.8" height="1.7" fill="#fff"/><rect x="21.60" y="-8.25" width="4.8" height="1.7" fill="#fff"/></pattern></defs>
<rect x="469.8" y="1314" width="120.8" height="616.8" fill="#292929"/>
<rect x="771.5" y="1400.3" width="121" height="530.5" fill="url(#sph)"/>
<path d="M530.7,1314 V1280.7 M523.4,1280.7 H538" stroke="#222" stroke-width="2" fill="none"/>
<path d="M832,1400.3 V1381.3 M824.5,1381.3 H839.5" stroke="#222" stroke-width="2" fill="none"/>
<path d="M389.6,1257.8 H381.2 V1930.8 H983.5 V1257.8 H972.3" fill="none" stroke="#000" stroke-width="3" stroke-linejoin="round"/>
<text x="344.5" y="1942.3" font-size="34.8" font-weight="normal" text-anchor="end" fill="#000" >0</text>
<text x="344.5" y="1830.1" font-size="34.8" font-weight="normal" text-anchor="end" fill="#000" >2</text>
<text x="344.5" y="1718.0" font-size="34.8" font-weight="normal" text-anchor="end" fill="#000" >4</text>
<text x="344.5" y="1605.8" font-size="34.8" font-weight="normal" text-anchor="end" fill="#000" >6</text>
<text x="344.5" y="1493.6" font-size="34.8" font-weight="normal" text-anchor="end" fill="#000" >8</text>
<text x="344.5" y="1381.5" font-size="34.8" font-weight="normal" text-anchor="end" fill="#000" >10</text>
<text x="344.5" y="1269.3" font-size="34.8" font-weight="normal" text-anchor="end" fill="#000" >12</text>
<text x="1011.8" y="1942.3" font-size="34.8" font-weight="normal" text-anchor="start" fill="#000" >0</text>
<text x="1011.8" y="1774.0" font-size="34.8" font-weight="normal" text-anchor="start" fill="#000" >1</text>
<text x="1011.8" y="1605.8" font-size="34.8" font-weight="normal" text-anchor="start" fill="#000" >2</text>
<text x="1011.8" y="1437.5" font-size="34.8" font-weight="normal" text-anchor="start" fill="#000" >3</text>
<text x="1011.8" y="1269.3" font-size="34.8" font-weight="normal" text-anchor="start" fill="#000" >4</text>
<path d="M381.2,1818.6 H389.6 M381.2,1706.5 H389.6 M381.2,1594.3 H389.6 M381.2,1482.1 H389.6 M381.2,1370.0 H389.6 M983.5,1762.5 H972.3 M983.5,1594.3 H972.3 M983.5,1426.0 H972.3" stroke="#000" stroke-width="3" fill="none"/>
<g transform="translate(273.30,1700.00) rotate(-90) scale(0.9490,1)"><text fill="#262626"><tspan x="3.99" y="0.00" font-size="39.0" font-weight="bold">CL-O</tspan><tspan x="99.61" y="8.40" font-size="23.5" font-weight="bold">2</tspan><tspan x="113.68" y="-12.00" font-size="22.0" font-weight="bold">-</tspan><tspan x="122.72" y="-13.40" font-size="18.0" font-weight="bold">&#8226;</tspan><tspan x="139.62" y="0.00" font-size="38.0" font-weight="bold">(</tspan><tspan x="154.76" y="-2.90" font-size="31.0" font-weight="bold">&#215;</tspan><tspan x="175.52" y="0.00" font-size="39.0" font-weight="bold">10</tspan><tspan x="219.44" y="-11.00" font-size="25.8" font-weight="bold">5</tspan><tspan x="234.10" y="0.00" font-size="38.0" font-weight="bold">)</tspan></text></g>
<g transform="translate(1068.00,1455.00) rotate(90) scale(0.9550,1)"><text fill="#262626"><tspan x="3.46" y="0.00" font-size="39.0" font-weight="bold">FL-OCl</tspan><tspan x="135.27" y="-11.50" font-size="22.0" font-weight="bold">-</tspan><tspan x="150.99" y="0.00" font-size="38.0" font-weight="bold">(</tspan><tspan x="166.34" y="-3.40" font-size="28.5" font-weight="bold">&#215;</tspan><tspan x="186.44" y="0.00" font-size="39.0" font-weight="bold">10</tspan><tspan x="230.50" y="-13.70" font-size="21.5" font-weight="bold">3</tspan><tspan x="239.75" y="0.00" font-size="38.0" font-weight="bold">)</tspan></text></g>
<rect x="1106.5" y="1811.2" width="43.3" height="44.4" fill="#292929"/>
<rect x="1106.5" y="1873.3" width="43.3" height="44.2" fill="url(#sph2)"/>
<text x="1168" y="1846" font-size="41" font-weight="bold" fill="#262626">CL-O<tspan font-size="27" dy="8">2</tspan><tspan font-size="26" dy="-21">-&#8226;</tspan></text>
<text x="1168" y="1909.7" font-size="41" font-weight="bold" fill="#000">FL-OCl<tspan font-size="26" dy="-12.5">-</tspan></text>
</svg></body></html>
